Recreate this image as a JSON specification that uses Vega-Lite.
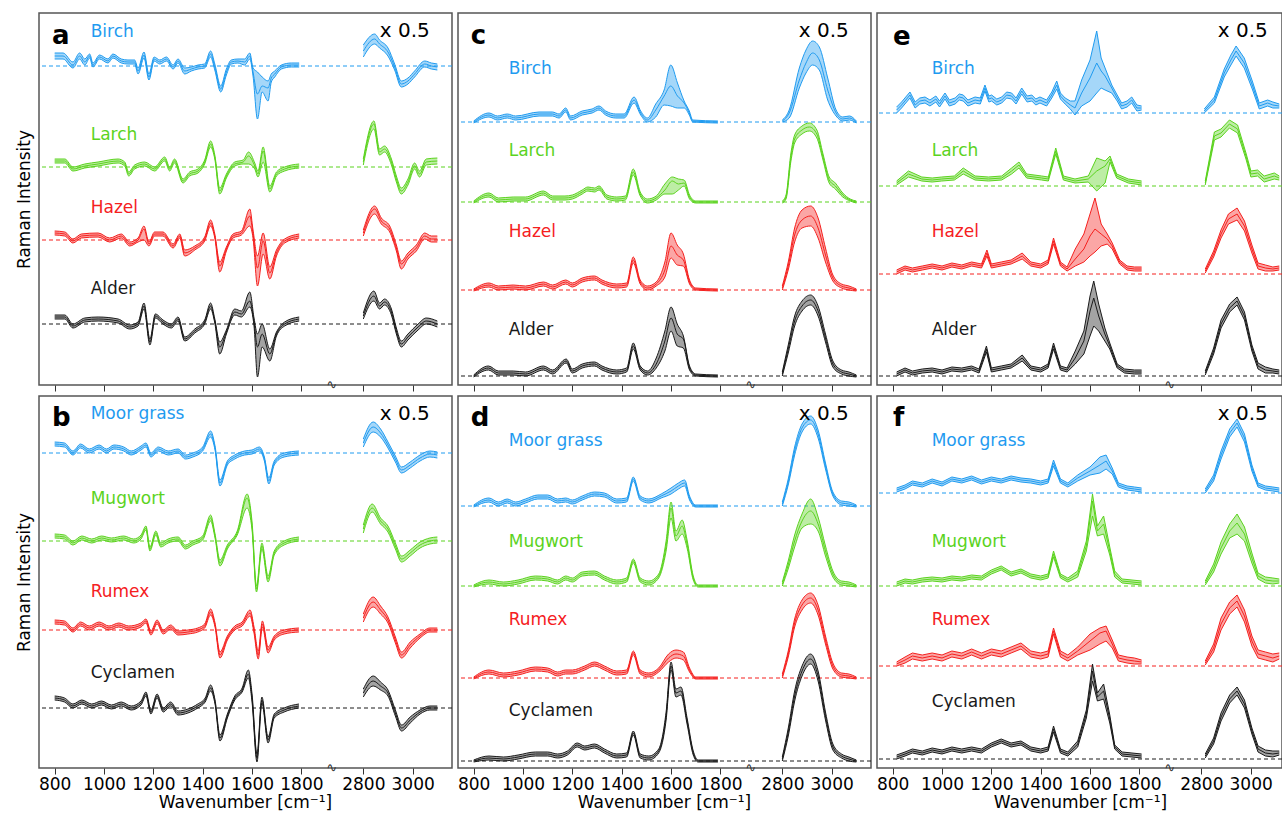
{
"$schema":"https://vega.github.io/schema/vega-lite/v6.json",
"background":"white",
"padding":{"left":14,"top":12,"right":0,"bottom":0},
"config":{"font":"DejaVu Sans","view":{"stroke":"#555","strokeWidth":1.5},
"axis":{"domain":false,"grid":false,"tickColor":"#333","tickSize":6,"tickWidth":1,"labelFontSize":17,"labelColor":"#000","labelPadding":2,"labelFlush":false,"labelOverlap":false,"labelBound":false,"titleFontSize":17,"titleFontWeight":"normal","titleColor":"#000","titlePadding":2},
"axisY":{"labels":false,"ticks":false,"domain":false,"titlePadding":6}},
"datasets":{
"aL":[{"s":"Birch","b":319,"ly":353},{"s":"Larch","b":218,"ly":250},{"s":"Hazel","b":145,"ly":177},{"s":"Alder","b":61,"ly":96}],
"bL":[{"s":"Moor grass","b":315,"ly":354},{"s":"Mugwort","b":227,"ly":269},{"s":"Rumex","b":138,"ly":176},{"s":"Cyclamen","b":60,"ly":95}],
"cL":[{"s":"Birch","b":263,"ly":316},{"s":"Larch","b":183,"ly":234},{"s":"Hazel","b":95,"ly":153},{"s":"Alder","b":9,"ly":55}],
"dL":[{"s":"Moor grass","b":262,"ly":327},{"s":"Mugwort","b":182,"ly":226},{"s":"Rumex","b":90,"ly":148},{"s":"Cyclamen","b":7,"ly":57}],
"eL":[{"s":"Birch","b":272,"ly":316},{"s":"Larch","b":199,"ly":234},{"s":"Hazel","b":111,"ly":153},{"s":"Alder","b":9,"ly":55}],
"fL":[{"s":"Moor grass","b":275,"ly":327},{"s":"Mugwort","b":182,"ly":226},{"s":"Rumex","b":102,"ly":148},{"s":"Cyclamen","b":9,"ly":66}],
"one":[{"k":1}],
"a":[
{"s":"Birch","w":800,"l":326,"m":329,"h":332},{"s":"Birch","w":834,"l":326,"m":329,"h":332},{"s":"Birch","w":874,"l":317,"m":320,"h":323},{"s":"Birch","w":901,"l":326,"m":329,"h":332},{"s":"Birch","w":922,"l":320,"m":323,"h":326},{"s":"Birch","w":942,"l":327,"m":329,"h":331},{"s":"Birch","w":955,"l":318,"m":320,"h":322},{"s":"Birch","w":982,"l":326,"m":328,"h":330},{"s":"Birch","w":1016,"l":322,"m":324,"h":326},{"s":"Birch","w":1036,"l":327,"m":329,"h":331},{"s":"Birch","w":1070,"l":322,"m":324,"h":326},{"s":"Birch","w":1097,"l":321,"m":323,"h":325},{"s":"Birch","w":1124,"l":321,"m":323,"h":325},{"s":"Birch","w":1138,"l":311,"m":314,"h":317},{"s":"Birch","w":1162,"l":327,"m":330,"h":333},{"s":"Birch","w":1182,"l":305,"m":308,"h":311},{"s":"Birch","w":1203,"l":324,"m":326,"h":328},{"s":"Birch","w":1226,"l":321,"m":323,"h":325},{"s":"Birch","w":1253,"l":324,"m":326,"h":328},{"s":"Birch","w":1280,"l":316,"m":318,"h":320},{"s":"Birch","w":1300,"l":322,"m":324,"h":326},{"s":"Birch","w":1327,"l":311,"m":314,"h":317},{"s":"Birch","w":1354,"l":314,"m":316,"h":318},{"s":"Birch","w":1381,"l":316,"m":318,"h":320},{"s":"Birch","w":1408,"l":317,"m":319,"h":321},{"s":"Birch","w":1432,"l":328,"m":331,"h":334},{"s":"Birch","w":1449,"l":315,"m":318,"h":321},{"s":"Birch","w":1473,"l":293,"m":296,"h":299},{"s":"Birch","w":1496,"l":310,"m":313,"h":316},{"s":"Birch","w":1516,"l":321,"m":323,"h":325},{"s":"Birch","w":1543,"l":322,"m":324,"h":326},{"s":"Birch","w":1570,"l":320,"m":323,"h":326},{"s":"Birch","w":1591,"l":326,"m":329,"h":332},{"s":"Birch","w":1604,"l":309,"m":313,"h":317},{"s":"Birch","w":1622,"l":266,"m":291,"h":313},{"s":"Birch","w":1641,"l":293,"m":299,"h":308},{"s":"Birch","w":1665,"l":284,"m":297,"h":304},{"s":"Birch","w":1678,"l":303,"m":307,"h":311},{"s":"Birch","w":1692,"l":308,"m":311,"h":314},{"s":"Birch","w":1719,"l":316,"m":318,"h":320},{"s":"Birch","w":1759,"l":318,"m":320,"h":322},{"s":"Birch","w":1791,"l":318,"m":320,"h":322},
{"s":"Birch","w":2800,"l":328,"m":334,"h":340},{"s":"Birch","w":2846,"l":341,"m":346,"h":351},{"s":"Birch","w":2866,"l":337,"m":341,"h":345},{"s":"Birch","w":2900,"l":329,"m":333,"h":337},{"s":"Birch","w":2927,"l":315,"m":318,"h":321},{"s":"Birch","w":2954,"l":298,"m":301,"h":304},{"s":"Birch","w":2981,"l":301,"m":304,"h":307},{"s":"Birch","w":3008,"l":308,"m":311,"h":314},{"s":"Birch","w":3049,"l":318,"m":321,"h":324},{"s":"Birch","w":3076,"l":316,"m":319,"h":322},{"s":"Birch","w":3100,"l":315,"m":318,"h":321},
{"s":"Larch","w":800,"l":222,"m":224,"h":226},{"s":"Larch","w":841,"l":222,"m":224,"h":226},{"s":"Larch","w":874,"l":214,"m":216,"h":218},{"s":"Larch","w":922,"l":217,"m":219,"h":221},{"s":"Larch","w":976,"l":219,"m":221,"h":223},{"s":"Larch","w":1057,"l":222,"m":224,"h":226},{"s":"Larch","w":1084,"l":219,"m":221,"h":223},{"s":"Larch","w":1100,"l":209,"m":211,"h":213},{"s":"Larch","w":1124,"l":216,"m":218,"h":220},{"s":"Larch","w":1165,"l":219,"m":221,"h":223},{"s":"Larch","w":1205,"l":214,"m":216,"h":218},{"s":"Larch","w":1246,"l":224,"m":226,"h":228},{"s":"Larch","w":1266,"l":214,"m":216,"h":218},{"s":"Larch","w":1286,"l":222,"m":224,"h":226},{"s":"Larch","w":1320,"l":202,"m":204,"h":206},{"s":"Larch","w":1347,"l":209,"m":211,"h":213},{"s":"Larch","w":1381,"l":212,"m":214,"h":216},{"s":"Larch","w":1408,"l":221,"m":223,"h":225},{"s":"Larch","w":1432,"l":238,"m":241,"h":244},{"s":"Larch","w":1449,"l":226,"m":228,"h":230},{"s":"Larch","w":1469,"l":191,"m":194,"h":197},{"s":"Larch","w":1496,"l":207,"m":209,"h":211},{"s":"Larch","w":1530,"l":219,"m":221,"h":223},{"s":"Larch","w":1564,"l":221,"m":223,"h":225},{"s":"Larch","w":1586,"l":221,"m":229,"h":233},{"s":"Larch","w":1611,"l":216,"m":219,"h":222},{"s":"Larch","w":1624,"l":208,"m":211,"h":214},{"s":"Larch","w":1645,"l":223,"m":234,"h":238},{"s":"Larch","w":1672,"l":193,"m":196,"h":199},{"s":"Larch","w":1699,"l":209,"m":211,"h":213},{"s":"Larch","w":1732,"l":214,"m":216,"h":218},{"s":"Larch","w":1791,"l":217,"m":219,"h":221},
{"s":"Larch","w":2800,"l":220,"m":223,"h":226},{"s":"Larch","w":2843,"l":256,"m":261,"h":264},{"s":"Larch","w":2866,"l":230,"m":233,"h":236},{"s":"Larch","w":2886,"l":233,"m":236,"h":239},{"s":"Larch","w":2914,"l":220,"m":223,"h":226},{"s":"Larch","w":2934,"l":203,"m":206,"h":209},{"s":"Larch","w":2954,"l":191,"m":194,"h":197},{"s":"Larch","w":2981,"l":200,"m":203,"h":206},{"s":"Larch","w":3008,"l":216,"m":219,"h":222},{"s":"Larch","w":3028,"l":208,"m":211,"h":214},{"s":"Larch","w":3055,"l":220,"m":223,"h":226},{"s":"Larch","w":3100,"l":221,"m":224,"h":227},
{"s":"Hazel","w":800,"l":150,"m":152,"h":154},{"s":"Hazel","w":841,"l":149,"m":151,"h":153},{"s":"Hazel","w":874,"l":142,"m":144,"h":146},{"s":"Hazel","w":908,"l":147,"m":149,"h":151},{"s":"Hazel","w":976,"l":148,"m":150,"h":152},{"s":"Hazel","w":1023,"l":143,"m":145,"h":147},{"s":"Hazel","w":1070,"l":147,"m":149,"h":151},{"s":"Hazel","w":1104,"l":139,"m":141,"h":143},{"s":"Hazel","w":1138,"l":143,"m":145,"h":147},{"s":"Hazel","w":1162,"l":145,"m":156,"h":159},{"s":"Hazel","w":1182,"l":139,"m":141,"h":143},{"s":"Hazel","w":1205,"l":149,"m":151,"h":153},{"s":"Hazel","w":1239,"l":149,"m":151,"h":153},{"s":"Hazel","w":1280,"l":137,"m":139,"h":141},{"s":"Hazel","w":1307,"l":147,"m":149,"h":151},{"s":"Hazel","w":1327,"l":129,"m":132,"h":135},{"s":"Hazel","w":1368,"l":135,"m":137,"h":139},{"s":"Hazel","w":1408,"l":144,"m":146,"h":148},{"s":"Hazel","w":1432,"l":159,"m":162,"h":165},{"s":"Hazel","w":1449,"l":147,"m":149,"h":151},{"s":"Hazel","w":1469,"l":113,"m":119,"h":123},{"s":"Hazel","w":1496,"l":134,"m":136,"h":138},{"s":"Hazel","w":1523,"l":147,"m":149,"h":151},{"s":"Hazel","w":1557,"l":150,"m":152,"h":154},{"s":"Hazel","w":1591,"l":159,"m":169,"h":176},{"s":"Hazel","w":1604,"l":147,"m":151,"h":155},{"s":"Hazel","w":1622,"l":99,"m":117,"h":129},{"s":"Hazel","w":1645,"l":131,"m":144,"h":152},{"s":"Hazel","w":1672,"l":106,"m":112,"h":118},{"s":"Hazel","w":1699,"l":129,"m":132,"h":135},{"s":"Hazel","w":1732,"l":142,"m":144,"h":146},{"s":"Hazel","w":1791,"l":147,"m":149,"h":151},
{"s":"Hazel","w":2800,"l":149,"m":152,"h":155},{"s":"Hazel","w":2846,"l":171,"m":176,"h":179},{"s":"Hazel","w":2873,"l":161,"m":164,"h":167},{"s":"Hazel","w":2907,"l":153,"m":156,"h":159},{"s":"Hazel","w":2934,"l":134,"m":137,"h":140},{"s":"Hazel","w":2954,"l":116,"m":121,"h":124},{"s":"Hazel","w":2981,"l":126,"m":129,"h":132},{"s":"Hazel","w":3015,"l":134,"m":137,"h":140},{"s":"Hazel","w":3049,"l":146,"m":149,"h":152},{"s":"Hazel","w":3076,"l":143,"m":146,"h":149},{"s":"Hazel","w":3100,"l":143,"m":146,"h":149},
{"s":"Alder","w":800,"l":66,"m":68,"h":70},{"s":"Alder","w":841,"l":66,"m":68,"h":70},{"s":"Alder","w":874,"l":57,"m":59,"h":61},{"s":"Alder","w":922,"l":63,"m":65,"h":67},{"s":"Alder","w":976,"l":64,"m":66,"h":68},{"s":"Alder","w":1057,"l":62,"m":64,"h":66},{"s":"Alder","w":1104,"l":56,"m":58,"h":60},{"s":"Alder","w":1138,"l":59,"m":61,"h":63},{"s":"Alder","w":1162,"l":76,"m":79,"h":82},{"s":"Alder","w":1186,"l":40,"m":43,"h":46},{"s":"Alder","w":1208,"l":67,"m":69,"h":71},{"s":"Alder","w":1239,"l":61,"m":63,"h":65},{"s":"Alder","w":1273,"l":57,"m":59,"h":61},{"s":"Alder","w":1300,"l":64,"m":66,"h":68},{"s":"Alder","w":1327,"l":44,"m":46,"h":48},{"s":"Alder","w":1368,"l":52,"m":54,"h":56},{"s":"Alder","w":1408,"l":61,"m":63,"h":65},{"s":"Alder","w":1432,"l":76,"m":79,"h":82},{"s":"Alder","w":1449,"l":62,"m":64,"h":66},{"s":"Alder","w":1469,"l":31,"m":38,"h":43},{"s":"Alder","w":1496,"l":51,"m":53,"h":55},{"s":"Alder","w":1530,"l":70,"m":73,"h":76},{"s":"Alder","w":1557,"l":68,"m":71,"h":74},{"s":"Alder","w":1591,"l":78,"m":84,"h":93},{"s":"Alder","w":1608,"l":59,"m":63,"h":67},{"s":"Alder","w":1622,"l":8,"m":38,"h":51},{"s":"Alder","w":1641,"l":38,"m":51,"h":61},{"s":"Alder","w":1672,"l":24,"m":31,"h":36},{"s":"Alder","w":1699,"l":49,"m":51,"h":53},{"s":"Alder","w":1732,"l":59,"m":61,"h":63},{"s":"Alder","w":1791,"l":64,"m":66,"h":68},
{"s":"Alder","w":2800,"l":66,"m":69,"h":72},{"s":"Alder","w":2843,"l":84,"m":89,"h":94},{"s":"Alder","w":2866,"l":76,"m":79,"h":82},{"s":"Alder","w":2886,"l":80,"m":83,"h":86},{"s":"Alder","w":2914,"l":70,"m":73,"h":76},{"s":"Alder","w":2934,"l":51,"m":54,"h":57},{"s":"Alder","w":2954,"l":38,"m":41,"h":44},{"s":"Alder","w":2981,"l":45,"m":48,"h":51},{"s":"Alder","w":3022,"l":55,"m":58,"h":61},{"s":"Alder","w":3055,"l":61,"m":64,"h":67},{"s":"Alder","w":3100,"l":58,"m":61,"h":64}
],
"b":[
{"s":"Moor grass","w":800,"l":322,"m":324,"h":326},{"s":"Moor grass","w":840,"l":321,"m":323,"h":325},{"s":"Moor grass","w":874,"l":313,"m":315,"h":317},{"s":"Moor grass","w":905,"l":320,"m":322,"h":324},{"s":"Moor grass","w":940,"l":315,"m":317,"h":319},{"s":"Moor grass","w":980,"l":319,"m":321,"h":323},{"s":"Moor grass","w":1010,"l":315,"m":317,"h":319},{"s":"Moor grass","w":1040,"l":319,"m":321,"h":323},{"s":"Moor grass","w":1080,"l":317,"m":319,"h":321},{"s":"Moor grass","w":1110,"l":313,"m":315,"h":317},{"s":"Moor grass","w":1150,"l":318,"m":320,"h":322},{"s":"Moor grass","w":1170,"l":321,"m":323,"h":325},{"s":"Moor grass","w":1190,"l":311,"m":313,"h":315},{"s":"Moor grass","w":1220,"l":317,"m":319,"h":321},{"s":"Moor grass","w":1260,"l":313,"m":315,"h":317},{"s":"Moor grass","w":1300,"l":315,"m":317,"h":319},{"s":"Moor grass","w":1330,"l":309,"m":311,"h":313},{"s":"Moor grass","w":1360,"l":311,"m":313,"h":315},{"s":"Moor grass","w":1400,"l":317,"m":319,"h":321},{"s":"Moor grass","w":1432,"l":331,"m":334,"h":337},{"s":"Moor grass","w":1450,"l":318,"m":320,"h":322},{"s":"Moor grass","w":1470,"l":282,"m":285,"h":288},{"s":"Moor grass","w":1500,"l":303,"m":305,"h":307},{"s":"Moor grass","w":1530,"l":309,"m":311,"h":313},{"s":"Moor grass","w":1570,"l":313,"m":315,"h":317},{"s":"Moor grass","w":1600,"l":314,"m":316,"h":318},{"s":"Moor grass","w":1630,"l":317,"m":319,"h":321},{"s":"Moor grass","w":1650,"l":307,"m":309,"h":311},{"s":"Moor grass","w":1668,"l":284,"m":287,"h":290},{"s":"Moor grass","w":1690,"l":303,"m":305,"h":307},{"s":"Moor grass","w":1730,"l":311,"m":313,"h":315},{"s":"Moor grass","w":1790,"l":313,"m":315,"h":317},
{"s":"Moor grass","w":2800,"l":321,"m":325,"h":329},{"s":"Moor grass","w":2840,"l":336,"m":341,"h":346},{"s":"Moor grass","w":2870,"l":331,"m":335,"h":339},{"s":"Moor grass","w":2900,"l":320,"m":323,"h":326},{"s":"Moor grass","w":2930,"l":306,"m":309,"h":312},{"s":"Moor grass","w":2955,"l":295,"m":298,"h":301},{"s":"Moor grass","w":2990,"l":300,"m":303,"h":306},{"s":"Moor grass","w":3030,"l":307,"m":310,"h":313},{"s":"Moor grass","w":3070,"l":311,"m":314,"h":317},{"s":"Moor grass","w":3100,"l":310,"m":313,"h":316},
{"s":"Mugwort","w":800,"l":230,"m":232,"h":234},{"s":"Mugwort","w":840,"l":229,"m":231,"h":233},{"s":"Mugwort","w":874,"l":223,"m":225,"h":227},{"s":"Mugwort","w":910,"l":228,"m":230,"h":232},{"s":"Mugwort","w":950,"l":225,"m":227,"h":229},{"s":"Mugwort","w":990,"l":228,"m":230,"h":232},{"s":"Mugwort","w":1030,"l":226,"m":228,"h":230},{"s":"Mugwort","w":1080,"l":228,"m":230,"h":232},{"s":"Mugwort","w":1120,"l":225,"m":227,"h":229},{"s":"Mugwort","w":1150,"l":229,"m":231,"h":233},{"s":"Mugwort","w":1170,"l":238,"m":240,"h":242},{"s":"Mugwort","w":1186,"l":217,"m":219,"h":221},{"s":"Mugwort","w":1210,"l":233,"m":235,"h":237},{"s":"Mugwort","w":1230,"l":221,"m":223,"h":225},{"s":"Mugwort","w":1260,"l":225,"m":227,"h":229},{"s":"Mugwort","w":1300,"l":227,"m":229,"h":231},{"s":"Mugwort","w":1330,"l":219,"m":221,"h":223},{"s":"Mugwort","w":1360,"l":223,"m":225,"h":227},{"s":"Mugwort","w":1400,"l":228,"m":230,"h":232},{"s":"Mugwort","w":1432,"l":247,"m":250,"h":253},{"s":"Mugwort","w":1450,"l":230,"m":232,"h":234},{"s":"Mugwort","w":1470,"l":202,"m":205,"h":208},{"s":"Mugwort","w":1500,"l":219,"m":221,"h":223},{"s":"Mugwort","w":1540,"l":233,"m":235,"h":237},{"s":"Mugwort","w":1580,"l":260,"m":270,"h":274},{"s":"Mugwort","w":1600,"l":238,"m":242,"h":246},{"s":"Mugwort","w":1618,"l":176,"m":179,"h":182},{"s":"Mugwort","w":1640,"l":219,"m":222,"h":225},{"s":"Mugwort","w":1665,"l":186,"m":189,"h":192},{"s":"Mugwort","w":1690,"l":213,"m":215,"h":217},{"s":"Mugwort","w":1730,"l":223,"m":225,"h":227},{"s":"Mugwort","w":1790,"l":227,"m":229,"h":231},
{"s":"Mugwort","w":2800,"l":235,"m":239,"h":243},{"s":"Mugwort","w":2836,"l":256,"m":260,"h":264},{"s":"Mugwort","w":2870,"l":244,"m":247,"h":250},{"s":"Mugwort","w":2900,"l":236,"m":239,"h":242},{"s":"Mugwort","w":2930,"l":219,"m":222,"h":225},{"s":"Mugwort","w":2955,"l":206,"m":209,"h":212},{"s":"Mugwort","w":2990,"l":212,"m":215,"h":218},{"s":"Mugwort","w":3030,"l":220,"m":223,"h":226},{"s":"Mugwort","w":3070,"l":224,"m":227,"h":230},{"s":"Mugwort","w":3100,"l":225,"m":228,"h":231},
{"s":"Rumex","w":800,"l":144,"m":146,"h":148},{"s":"Rumex","w":840,"l":143,"m":145,"h":147},{"s":"Rumex","w":874,"l":136,"m":138,"h":140},{"s":"Rumex","w":905,"l":142,"m":144,"h":146},{"s":"Rumex","w":940,"l":138,"m":140,"h":142},{"s":"Rumex","w":980,"l":142,"m":144,"h":146},{"s":"Rumex","w":1020,"l":138,"m":140,"h":142},{"s":"Rumex","w":1060,"l":141,"m":143,"h":145},{"s":"Rumex","w":1100,"l":138,"m":140,"h":142},{"s":"Rumex","w":1150,"l":141,"m":143,"h":145},{"s":"Rumex","w":1170,"l":145,"m":147,"h":149},{"s":"Rumex","w":1190,"l":133,"m":135,"h":137},{"s":"Rumex","w":1215,"l":144,"m":146,"h":148},{"s":"Rumex","w":1240,"l":134,"m":136,"h":138},{"s":"Rumex","w":1270,"l":139,"m":141,"h":143},{"s":"Rumex","w":1300,"l":133,"m":135,"h":137},{"s":"Rumex","w":1340,"l":134,"m":136,"h":138},{"s":"Rumex","w":1380,"l":136,"m":138,"h":140},{"s":"Rumex","w":1408,"l":140,"m":142,"h":144},{"s":"Rumex","w":1432,"l":153,"m":156,"h":159},{"s":"Rumex","w":1450,"l":141,"m":143,"h":145},{"s":"Rumex","w":1470,"l":110,"m":113,"h":116},{"s":"Rumex","w":1500,"l":128,"m":130,"h":132},{"s":"Rumex","w":1530,"l":138,"m":140,"h":142},{"s":"Rumex","w":1560,"l":142,"m":144,"h":146},{"s":"Rumex","w":1592,"l":152,"m":155,"h":158},{"s":"Rumex","w":1608,"l":135,"m":138,"h":141},{"s":"Rumex","w":1625,"l":109,"m":113,"h":117},{"s":"Rumex","w":1642,"l":141,"m":144,"h":147},{"s":"Rumex","w":1665,"l":115,"m":118,"h":121},{"s":"Rumex","w":1690,"l":128,"m":130,"h":132},{"s":"Rumex","w":1730,"l":134,"m":136,"h":138},{"s":"Rumex","w":1790,"l":136,"m":138,"h":140},
{"s":"Rumex","w":2800,"l":146,"m":150,"h":154},{"s":"Rumex","w":2840,"l":161,"m":166,"h":171},{"s":"Rumex","w":2870,"l":154,"m":158,"h":162},{"s":"Rumex","w":2900,"l":145,"m":148,"h":151},{"s":"Rumex","w":2930,"l":125,"m":128,"h":131},{"s":"Rumex","w":2955,"l":110,"m":113,"h":116},{"s":"Rumex","w":2990,"l":120,"m":123,"h":126},{"s":"Rumex","w":3030,"l":130,"m":132,"h":134},{"s":"Rumex","w":3070,"l":136,"m":138,"h":140},{"s":"Rumex","w":3100,"l":136,"m":138,"h":140},
{"s":"Cyclamen","w":800,"l":68,"m":70,"h":72},{"s":"Cyclamen","w":840,"l":66,"m":68,"h":70},{"s":"Cyclamen","w":874,"l":60,"m":62,"h":64},{"s":"Cyclamen","w":910,"l":64,"m":66,"h":68},{"s":"Cyclamen","w":950,"l":60,"m":62,"h":64},{"s":"Cyclamen","w":990,"l":63,"m":65,"h":67},{"s":"Cyclamen","w":1030,"l":59,"m":61,"h":63},{"s":"Cyclamen","w":1070,"l":62,"m":64,"h":66},{"s":"Cyclamen","w":1110,"l":58,"m":60,"h":62},{"s":"Cyclamen","w":1150,"l":63,"m":65,"h":67},{"s":"Cyclamen","w":1170,"l":72,"m":74,"h":76},{"s":"Cyclamen","w":1190,"l":54,"m":56,"h":58},{"s":"Cyclamen","w":1215,"l":70,"m":72,"h":74},{"s":"Cyclamen","w":1240,"l":56,"m":58,"h":60},{"s":"Cyclamen","w":1270,"l":62,"m":64,"h":66},{"s":"Cyclamen","w":1300,"l":53,"m":55,"h":57},{"s":"Cyclamen","w":1340,"l":55,"m":57,"h":59},{"s":"Cyclamen","w":1380,"l":60,"m":62,"h":64},{"s":"Cyclamen","w":1410,"l":66,"m":68,"h":70},{"s":"Cyclamen","w":1432,"l":77,"m":80,"h":83},{"s":"Cyclamen","w":1450,"l":64,"m":66,"h":68},{"s":"Cyclamen","w":1470,"l":27,"m":30,"h":33},{"s":"Cyclamen","w":1500,"l":50,"m":52,"h":54},{"s":"Cyclamen","w":1530,"l":68,"m":70,"h":72},{"s":"Cyclamen","w":1560,"l":76,"m":78,"h":80},{"s":"Cyclamen","w":1585,"l":90,"m":94,"h":98},{"s":"Cyclamen","w":1600,"l":66,"m":70,"h":74},{"s":"Cyclamen","w":1620,"l":6,"m":10,"h":14},{"s":"Cyclamen","w":1640,"l":65,"m":68,"h":71},{"s":"Cyclamen","w":1665,"l":25,"m":28,"h":31},{"s":"Cyclamen","w":1690,"l":50,"m":52,"h":54},{"s":"Cyclamen","w":1730,"l":56,"m":58,"h":60},{"s":"Cyclamen","w":1790,"l":60,"m":62,"h":64},
{"s":"Cyclamen","w":2800,"l":71,"m":75,"h":79},{"s":"Cyclamen","w":2840,"l":82,"m":87,"h":92},{"s":"Cyclamen","w":2870,"l":78,"m":82,"h":86},{"s":"Cyclamen","w":2900,"l":72,"m":75,"h":78},{"s":"Cyclamen","w":2930,"l":52,"m":55,"h":58},{"s":"Cyclamen","w":2955,"l":37,"m":40,"h":43},{"s":"Cyclamen","w":2990,"l":45,"m":48,"h":51},{"s":"Cyclamen","w":3030,"l":54,"m":56,"h":58},{"s":"Cyclamen","w":3070,"l":58,"m":60,"h":62},{"s":"Cyclamen","w":3100,"l":58,"m":60,"h":62}
],
"c":[
{"s":"Birch","w":800,"l":262,"m":263,"h":264},{"s":"Birch","w":862,"l":268,"m":270,"h":272},{"s":"Birch","w":896,"l":265,"m":267,"h":269},{"s":"Birch","w":936,"l":267,"m":269,"h":271},{"s":"Birch","w":970,"l":265,"m":267,"h":269},{"s":"Birch","w":1065,"l":269,"m":271,"h":273},{"s":"Birch","w":1119,"l":269,"m":271,"h":273},{"s":"Birch","w":1146,"l":267,"m":269,"h":271},{"s":"Birch","w":1173,"l":273,"m":275,"h":277},{"s":"Birch","w":1193,"l":265,"m":267,"h":269},{"s":"Birch","w":1240,"l":270,"m":272,"h":274},{"s":"Birch","w":1280,"l":272,"m":274,"h":276},{"s":"Birch","w":1308,"l":275,"m":277,"h":279},{"s":"Birch","w":1335,"l":270,"m":272,"h":274},{"s":"Birch","w":1376,"l":267,"m":269,"h":271},{"s":"Birch","w":1410,"l":267,"m":269,"h":271},{"s":"Birch","w":1450,"l":282,"m":285,"h":288},{"s":"Birch","w":1477,"l":270,"m":272,"h":274},{"s":"Birch","w":1504,"l":263,"m":265,"h":267},{"s":"Birch","w":1538,"l":268,"m":275,"h":281},{"s":"Birch","w":1572,"l":280,"m":289,"h":295},{"s":"Birch","w":1599,"l":279,"m":299,"h":320},{"s":"Birch","w":1626,"l":277,"m":289,"h":302},{"s":"Birch","w":1653,"l":277,"m":282,"h":284},{"s":"Birch","w":1674,"l":270,"m":272,"h":274},{"s":"Birch","w":1688,"l":263,"m":264,"h":265},{"s":"Birch","w":1790,"l":262,"m":263,"h":264},
{"s":"Birch","w":2800,"l":263,"m":264,"h":265},{"s":"Birch","w":2828,"l":267,"m":272,"h":275},{"s":"Birch","w":2869,"l":297,"m":305,"h":317},{"s":"Birch","w":2896,"l":312,"m":322,"h":335},{"s":"Birch","w":2923,"l":320,"m":332,"h":344},{"s":"Birch","w":2950,"l":315,"m":325,"h":338},{"s":"Birch","w":2984,"l":285,"m":295,"h":307},{"s":"Birch","w":3018,"l":269,"m":272,"h":275},{"s":"Birch","w":3045,"l":264,"m":266,"h":268},{"s":"Birch","w":3072,"l":265,"m":267,"h":269},{"s":"Birch","w":3100,"l":262,"m":263,"h":264},
{"s":"Larch","w":800,"l":182,"m":183,"h":184},{"s":"Larch","w":862,"l":188,"m":190,"h":192},{"s":"Larch","w":900,"l":183,"m":185,"h":187},{"s":"Larch","w":960,"l":184,"m":186,"h":188},{"s":"Larch","w":1010,"l":184,"m":186,"h":188},{"s":"Larch","w":1083,"l":190,"m":192,"h":194},{"s":"Larch","w":1120,"l":185,"m":187,"h":189},{"s":"Larch","w":1170,"l":185,"m":187,"h":189},{"s":"Larch","w":1200,"l":186,"m":188,"h":190},{"s":"Larch","w":1240,"l":191,"m":193,"h":195},{"s":"Larch","w":1263,"l":194,"m":196,"h":198},{"s":"Larch","w":1290,"l":193,"m":195,"h":197},{"s":"Larch","w":1308,"l":195,"m":197,"h":199},{"s":"Larch","w":1340,"l":186,"m":188,"h":190},{"s":"Larch","w":1380,"l":184,"m":186,"h":188},{"s":"Larch","w":1415,"l":185,"m":187,"h":189},{"s":"Larch","w":1447,"l":210,"m":213,"h":216},{"s":"Larch","w":1475,"l":189,"m":191,"h":193},{"s":"Larch","w":1505,"l":182,"m":184,"h":186},{"s":"Larch","w":1540,"l":185,"m":187,"h":189},{"s":"Larch","w":1575,"l":191,"m":195,"h":201},{"s":"Larch","w":1605,"l":191,"m":204,"h":208},{"s":"Larch","w":1630,"l":195,"m":201,"h":206},{"s":"Larch","w":1653,"l":199,"m":202,"h":205},{"s":"Larch","w":1675,"l":186,"m":188,"h":190},{"s":"Larch","w":1700,"l":182,"m":183,"h":184},{"s":"Larch","w":1790,"l":182,"m":183,"h":184},
{"s":"Larch","w":2800,"l":182,"m":183,"h":184},{"s":"Larch","w":2815,"l":186,"m":188,"h":190},{"s":"Larch","w":2835,"l":224,"m":228,"h":232},{"s":"Larch","w":2850,"l":242,"m":246,"h":250},{"s":"Larch","w":2880,"l":251,"m":255,"h":259},{"s":"Larch","w":2910,"l":254,"m":258,"h":262},{"s":"Larch","w":2940,"l":247,"m":251,"h":255},{"s":"Larch","w":2965,"l":225,"m":228,"h":231},{"s":"Larch","w":2990,"l":202,"m":205,"h":208},{"s":"Larch","w":3015,"l":196,"m":199,"h":202},{"s":"Larch","w":3045,"l":188,"m":190,"h":192},{"s":"Larch","w":3075,"l":184,"m":185,"h":186},{"s":"Larch","w":3100,"l":182,"m":183,"h":184},
{"s":"Hazel","w":800,"l":94,"m":95,"h":96},{"s":"Hazel","w":862,"l":98,"m":100,"h":102},{"s":"Hazel","w":900,"l":95,"m":97,"h":99},{"s":"Hazel","w":960,"l":96,"m":98,"h":100},{"s":"Hazel","w":1010,"l":95,"m":97,"h":99},{"s":"Hazel","w":1083,"l":99,"m":101,"h":103},{"s":"Hazel","w":1120,"l":96,"m":98,"h":100},{"s":"Hazel","w":1173,"l":101,"m":103,"h":105},{"s":"Hazel","w":1200,"l":98,"m":100,"h":102},{"s":"Hazel","w":1240,"l":103,"m":105,"h":107},{"s":"Hazel","w":1290,"l":105,"m":107,"h":109},{"s":"Hazel","w":1320,"l":101,"m":103,"h":105},{"s":"Hazel","w":1380,"l":97,"m":99,"h":101},{"s":"Hazel","w":1420,"l":98,"m":100,"h":102},{"s":"Hazel","w":1447,"l":122,"m":125,"h":128},{"s":"Hazel","w":1475,"l":101,"m":103,"h":105},{"s":"Hazel","w":1505,"l":95,"m":97,"h":99},{"s":"Hazel","w":1540,"l":99,"m":101,"h":103},{"s":"Hazel","w":1575,"l":108,"m":115,"h":123},{"s":"Hazel","w":1600,"l":127,"m":139,"h":152},{"s":"Hazel","w":1625,"l":120,"m":130,"h":140},{"s":"Hazel","w":1650,"l":119,"m":125,"h":131},{"s":"Hazel","w":1675,"l":101,"m":103,"h":105},{"s":"Hazel","w":1700,"l":95,"m":96,"h":97},{"s":"Hazel","w":1790,"l":94,"m":95,"h":96},
{"s":"Hazel","w":2800,"l":95,"m":97,"h":99},{"s":"Hazel","w":2825,"l":116,"m":120,"h":124},{"s":"Hazel","w":2850,"l":143,"m":150,"h":157},{"s":"Hazel","w":2880,"l":157,"m":165,"h":175},{"s":"Hazel","w":2915,"l":159,"m":169,"h":179},{"s":"Hazel","w":2945,"l":147,"m":157,"h":167},{"s":"Hazel","w":2975,"l":123,"m":130,"h":137},{"s":"Hazel","w":3005,"l":104,"m":107,"h":110},{"s":"Hazel","w":3040,"l":97,"m":99,"h":101},{"s":"Hazel","w":3070,"l":95,"m":97,"h":99},{"s":"Hazel","w":3100,"l":94,"m":95,"h":96},
{"s":"Alder","w":800,"l":8,"m":9,"h":10},{"s":"Alder","w":860,"l":15,"m":17,"h":19},{"s":"Alder","w":900,"l":10,"m":12,"h":14},{"s":"Alder","w":960,"l":10,"m":12,"h":14},{"s":"Alder","w":1010,"l":9,"m":11,"h":13},{"s":"Alder","w":1083,"l":15,"m":17,"h":19},{"s":"Alder","w":1120,"l":11,"m":13,"h":15},{"s":"Alder","w":1175,"l":22,"m":24,"h":26},{"s":"Alder","w":1200,"l":12,"m":14,"h":16},{"s":"Alder","w":1240,"l":17,"m":19,"h":21},{"s":"Alder","w":1290,"l":19,"m":21,"h":23},{"s":"Alder","w":1320,"l":15,"m":17,"h":19},{"s":"Alder","w":1380,"l":11,"m":13,"h":15},{"s":"Alder","w":1420,"l":13,"m":15,"h":17},{"s":"Alder","w":1447,"l":36,"m":39,"h":42},{"s":"Alder","w":1475,"l":15,"m":17,"h":19},{"s":"Alder","w":1505,"l":10,"m":12,"h":14},{"s":"Alder","w":1540,"l":17,"m":21,"h":27},{"s":"Alder","w":1575,"l":34,"m":44,"h":54},{"s":"Alder","w":1600,"l":54,"m":67,"h":78},{"s":"Alder","w":1625,"l":39,"m":51,"h":61},{"s":"Alder","w":1650,"l":37,"m":46,"h":49},{"s":"Alder","w":1675,"l":15,"m":17,"h":19},{"s":"Alder","w":1700,"l":9,"m":10,"h":11},{"s":"Alder","w":1790,"l":8,"m":9,"h":10},
{"s":"Alder","w":2800,"l":9,"m":11,"h":13},{"s":"Alder","w":2825,"l":33,"m":37,"h":41},{"s":"Alder","w":2850,"l":59,"m":64,"h":69},{"s":"Alder","w":2880,"l":74,"m":79,"h":84},{"s":"Alder","w":2915,"l":80,"m":85,"h":90},{"s":"Alder","w":2945,"l":69,"m":74,"h":79},{"s":"Alder","w":2975,"l":43,"m":47,"h":51},{"s":"Alder","w":3005,"l":18,"m":21,"h":24},{"s":"Alder","w":3040,"l":11,"m":13,"h":15},{"s":"Alder","w":3070,"l":9,"m":11,"h":13},{"s":"Alder","w":3100,"l":8,"m":9,"h":10}
],
"d":[
{"s":"Moor grass","w":800,"l":261,"m":262,"h":263},{"s":"Moor grass","w":862,"l":266,"m":268,"h":270},{"s":"Moor grass","w":900,"l":262,"m":264,"h":266},{"s":"Moor grass","w":936,"l":265,"m":267,"h":269},{"s":"Moor grass","w":970,"l":262,"m":264,"h":266},{"s":"Moor grass","w":1010,"l":265,"m":267,"h":269},{"s":"Moor grass","w":1060,"l":269,"m":271,"h":273},{"s":"Moor grass","w":1100,"l":269,"m":271,"h":273},{"s":"Moor grass","w":1140,"l":265,"m":267,"h":269},{"s":"Moor grass","w":1173,"l":266,"m":268,"h":270},{"s":"Moor grass","w":1200,"l":264,"m":266,"h":268},{"s":"Moor grass","w":1240,"l":268,"m":270,"h":272},{"s":"Moor grass","w":1290,"l":272,"m":274,"h":276},{"s":"Moor grass","w":1330,"l":271,"m":273,"h":275},{"s":"Moor grass","w":1380,"l":265,"m":267,"h":269},{"s":"Moor grass","w":1420,"l":266,"m":268,"h":270},{"s":"Moor grass","w":1447,"l":287,"m":289,"h":291},{"s":"Moor grass","w":1475,"l":268,"m":270,"h":272},{"s":"Moor grass","w":1510,"l":265,"m":267,"h":269},{"s":"Moor grass","w":1560,"l":270,"m":272,"h":274},{"s":"Moor grass","w":1600,"l":274,"m":277,"h":280},{"s":"Moor grass","w":1630,"l":279,"m":282,"h":285},{"s":"Moor grass","w":1655,"l":282,"m":285,"h":288},{"s":"Moor grass","w":1675,"l":268,"m":270,"h":272},{"s":"Moor grass","w":1700,"l":261,"m":262,"h":263},{"s":"Moor grass","w":1790,"l":261,"m":262,"h":263},
{"s":"Moor grass","w":2800,"l":262,"m":264,"h":266},{"s":"Moor grass","w":2825,"l":284,"m":287,"h":290},{"s":"Moor grass","w":2850,"l":313,"m":317,"h":321},{"s":"Moor grass","w":2880,"l":336,"m":340,"h":344},{"s":"Moor grass","w":2915,"l":344,"m":348,"h":352},{"s":"Moor grass","w":2945,"l":330,"m":334,"h":338},{"s":"Moor grass","w":2975,"l":299,"m":302,"h":305},{"s":"Moor grass","w":3005,"l":272,"m":274,"h":276},{"s":"Moor grass","w":3040,"l":263,"m":265,"h":267},{"s":"Moor grass","w":3070,"l":262,"m":264,"h":266},{"s":"Moor grass","w":3100,"l":261,"m":262,"h":263},
{"s":"Mugwort","w":800,"l":181,"m":182,"h":183},{"s":"Mugwort","w":862,"l":184,"m":186,"h":188},{"s":"Mugwort","w":920,"l":182,"m":184,"h":186},{"s":"Mugwort","w":980,"l":184,"m":186,"h":188},{"s":"Mugwort","w":1050,"l":188,"m":190,"h":192},{"s":"Mugwort","w":1100,"l":187,"m":189,"h":191},{"s":"Mugwort","w":1140,"l":184,"m":186,"h":188},{"s":"Mugwort","w":1173,"l":188,"m":190,"h":192},{"s":"Mugwort","w":1200,"l":186,"m":188,"h":190},{"s":"Mugwort","w":1240,"l":192,"m":194,"h":196},{"s":"Mugwort","w":1290,"l":193,"m":195,"h":197},{"s":"Mugwort","w":1330,"l":188,"m":190,"h":192},{"s":"Mugwort","w":1380,"l":184,"m":186,"h":188},{"s":"Mugwort","w":1420,"l":186,"m":188,"h":190},{"s":"Mugwort","w":1447,"l":205,"m":207,"h":209},{"s":"Mugwort","w":1475,"l":186,"m":188,"h":190},{"s":"Mugwort","w":1510,"l":183,"m":185,"h":187},{"s":"Mugwort","w":1550,"l":190,"m":192,"h":194},{"s":"Mugwort","w":1580,"l":217,"m":222,"h":227},{"s":"Mugwort","w":1600,"l":250,"m":260,"h":266},{"s":"Mugwort","w":1620,"l":227,"m":232,"h":237},{"s":"Mugwort","w":1645,"l":234,"m":242,"h":248},{"s":"Mugwort","w":1665,"l":220,"m":224,"h":228},{"s":"Mugwort","w":1690,"l":188,"m":190,"h":192},{"s":"Mugwort","w":1710,"l":181,"m":182,"h":183},{"s":"Mugwort","w":1790,"l":181,"m":182,"h":183},
{"s":"Mugwort","w":2800,"l":182,"m":184,"h":186},{"s":"Mugwort","w":2825,"l":200,"m":204,"h":208},{"s":"Mugwort","w":2850,"l":221,"m":227,"h":233},{"s":"Mugwort","w":2880,"l":240,"m":247,"h":254},{"s":"Mugwort","w":2915,"l":244,"m":257,"h":269},{"s":"Mugwort","w":2945,"l":237,"m":244,"h":251},{"s":"Mugwort","w":2975,"l":212,"m":217,"h":222},{"s":"Mugwort","w":3005,"l":191,"m":194,"h":197},{"s":"Mugwort","w":3040,"l":183,"m":185,"h":187},{"s":"Mugwort","w":3070,"l":182,"m":184,"h":186},{"s":"Mugwort","w":3100,"l":181,"m":182,"h":183},
{"s":"Rumex","w":800,"l":89,"m":90,"h":91},{"s":"Rumex","w":862,"l":94,"m":96,"h":98},{"s":"Rumex","w":920,"l":91,"m":93,"h":95},{"s":"Rumex","w":980,"l":93,"m":95,"h":97},{"s":"Rumex","w":1050,"l":97,"m":99,"h":101},{"s":"Rumex","w":1100,"l":96,"m":98,"h":100},{"s":"Rumex","w":1140,"l":92,"m":94,"h":96},{"s":"Rumex","w":1173,"l":94,"m":96,"h":98},{"s":"Rumex","w":1200,"l":94,"m":96,"h":98},{"s":"Rumex","w":1250,"l":98,"m":100,"h":102},{"s":"Rumex","w":1290,"l":102,"m":104,"h":106},{"s":"Rumex","w":1330,"l":98,"m":100,"h":102},{"s":"Rumex","w":1380,"l":93,"m":95,"h":97},{"s":"Rumex","w":1420,"l":94,"m":96,"h":98},{"s":"Rumex","w":1447,"l":113,"m":115,"h":117},{"s":"Rumex","w":1475,"l":94,"m":96,"h":98},{"s":"Rumex","w":1510,"l":91,"m":93,"h":95},{"s":"Rumex","w":1550,"l":96,"m":98,"h":100},{"s":"Rumex","w":1590,"l":106,"m":110,"h":114},{"s":"Rumex","w":1620,"l":110,"m":114,"h":118},{"s":"Rumex","w":1650,"l":108,"m":112,"h":116},{"s":"Rumex","w":1675,"l":96,"m":98,"h":100},{"s":"Rumex","w":1700,"l":89,"m":90,"h":91},{"s":"Rumex","w":1790,"l":89,"m":90,"h":91},
{"s":"Rumex","w":2800,"l":90,"m":92,"h":94},{"s":"Rumex","w":2825,"l":112,"m":115,"h":118},{"s":"Rumex","w":2850,"l":141,"m":145,"h":149},{"s":"Rumex","w":2880,"l":158,"m":163,"h":168},{"s":"Rumex","w":2915,"l":165,"m":170,"h":175},{"s":"Rumex","w":2945,"l":153,"m":158,"h":163},{"s":"Rumex","w":2975,"l":124,"m":128,"h":132},{"s":"Rumex","w":3005,"l":99,"m":102,"h":105},{"s":"Rumex","w":3040,"l":91,"m":93,"h":95},{"s":"Rumex","w":3070,"l":90,"m":92,"h":94},{"s":"Rumex","w":3100,"l":89,"m":90,"h":91},
{"s":"Cyclamen","w":800,"l":6,"m":7,"h":8},{"s":"Cyclamen","w":862,"l":8,"m":10,"h":12},{"s":"Cyclamen","w":920,"l":7,"m":9,"h":11},{"s":"Cyclamen","w":980,"l":9,"m":11,"h":13},{"s":"Cyclamen","w":1050,"l":12,"m":14,"h":16},{"s":"Cyclamen","w":1100,"l":12,"m":14,"h":16},{"s":"Cyclamen","w":1140,"l":10,"m":12,"h":14},{"s":"Cyclamen","w":1180,"l":13,"m":15,"h":17},{"s":"Cyclamen","w":1220,"l":21,"m":23,"h":25},{"s":"Cyclamen","w":1250,"l":18,"m":20,"h":22},{"s":"Cyclamen","w":1290,"l":20,"m":22,"h":24},{"s":"Cyclamen","w":1330,"l":15,"m":17,"h":19},{"s":"Cyclamen","w":1380,"l":10,"m":12,"h":14},{"s":"Cyclamen","w":1420,"l":11,"m":13,"h":15},{"s":"Cyclamen","w":1447,"l":33,"m":35,"h":37},{"s":"Cyclamen","w":1475,"l":10,"m":12,"h":14},{"s":"Cyclamen","w":1510,"l":8,"m":10,"h":12},{"s":"Cyclamen","w":1550,"l":15,"m":17,"h":19},{"s":"Cyclamen","w":1580,"l":48,"m":52,"h":56},{"s":"Cyclamen","w":1600,"l":98,"m":102,"h":106},{"s":"Cyclamen","w":1620,"l":71,"m":75,"h":79},{"s":"Cyclamen","w":1640,"l":73,"m":77,"h":81},{"s":"Cyclamen","w":1665,"l":44,"m":47,"h":50},{"s":"Cyclamen","w":1690,"l":13,"m":15,"h":17},{"s":"Cyclamen","w":1710,"l":6,"m":7,"h":8},{"s":"Cyclamen","w":1790,"l":6,"m":7,"h":8},
{"s":"Cyclamen","w":2800,"l":7,"m":9,"h":11},{"s":"Cyclamen","w":2825,"l":33,"m":37,"h":41},{"s":"Cyclamen","w":2850,"l":67,"m":72,"h":77},{"s":"Cyclamen","w":2880,"l":92,"m":97,"h":102},{"s":"Cyclamen","w":2915,"l":104,"m":109,"h":114},{"s":"Cyclamen","w":2945,"l":87,"m":92,"h":97},{"s":"Cyclamen","w":2975,"l":48,"m":52,"h":56},{"s":"Cyclamen","w":3005,"l":18,"m":21,"h":24},{"s":"Cyclamen","w":3040,"l":10,"m":12,"h":14},{"s":"Cyclamen","w":3070,"l":7,"m":9,"h":11},{"s":"Cyclamen","w":3100,"l":6,"m":7,"h":8}
],
"e":[
{"s":"Birch","w":816,"l":272,"m":275,"h":278},{"s":"Birch","w":836,"l":277,"m":280,"h":283},{"s":"Birch","w":870,"l":287,"m":290,"h":293},{"s":"Birch","w":891,"l":277,"m":280,"h":283},{"s":"Birch","w":910,"l":281,"m":284,"h":287},{"s":"Birch","w":931,"l":282,"m":285,"h":288},{"s":"Birch","w":951,"l":279,"m":282,"h":285},{"s":"Birch","w":975,"l":283,"m":286,"h":289},{"s":"Birch","w":990,"l":278,"m":281,"h":284},{"s":"Birch","w":1012,"l":286,"m":289,"h":292},{"s":"Birch","w":1030,"l":279,"m":282,"h":285},{"s":"Birch","w":1053,"l":281,"m":284,"h":287},{"s":"Birch","w":1070,"l":285,"m":288,"h":291},{"s":"Birch","w":1086,"l":284,"m":287,"h":290},{"s":"Birch","w":1105,"l":279,"m":282,"h":285},{"s":"Birch","w":1134,"l":282,"m":285,"h":288},{"s":"Birch","w":1155,"l":281,"m":284,"h":287},{"s":"Birch","w":1174,"l":294,"m":297,"h":300},{"s":"Birch","w":1190,"l":283,"m":286,"h":289},{"s":"Birch","w":1201,"l":284,"m":287,"h":290},{"s":"Birch","w":1222,"l":280,"m":283,"h":286},{"s":"Birch","w":1242,"l":282,"m":285,"h":288},{"s":"Birch","w":1262,"l":287,"m":290,"h":293},{"s":"Birch","w":1282,"l":286,"m":289,"h":292},{"s":"Birch","w":1300,"l":281,"m":284,"h":287},{"s":"Birch","w":1323,"l":291,"m":294,"h":297},{"s":"Birch","w":1345,"l":283,"m":286,"h":289},{"s":"Birch","w":1364,"l":284,"m":287,"h":290},{"s":"Birch","w":1380,"l":280,"m":283,"h":286},{"s":"Birch","w":1397,"l":282,"m":285,"h":288},{"s":"Birch","w":1424,"l":279,"m":282,"h":285},{"s":"Birch","w":1445,"l":287,"m":290,"h":293},{"s":"Birch","w":1465,"l":296,"m":300,"h":304},{"s":"Birch","w":1480,"l":286,"m":289,"h":292},{"s":"Birch","w":1499,"l":281,"m":284,"h":287},{"s":"Birch","w":1520,"l":276,"m":280,"h":284},{"s":"Birch","w":1539,"l":270,"m":277,"h":284},{"s":"Birch","w":1566,"l":279,"m":292,"h":305},{"s":"Birch","w":1600,"l":284,"m":307,"h":325},{"s":"Birch","w":1627,"l":292,"m":322,"h":354},{"s":"Birch","w":1645,"l":297,"m":314,"h":327},{"s":"Birch","w":1661,"l":295,"m":309,"h":317},{"s":"Birch","w":1688,"l":292,"m":297,"h":300},{"s":"Birch","w":1710,"l":284,"m":287,"h":290},{"s":"Birch","w":1728,"l":276,"m":279,"h":282},{"s":"Birch","w":1750,"l":278,"m":281,"h":284},{"s":"Birch","w":1769,"l":282,"m":285,"h":288},{"s":"Birch","w":1790,"l":274,"m":277,"h":280},{"s":"Birch","w":1809,"l":275,"m":277,"h":279},
{"s":"Birch","w":2812,"l":272,"m":274,"h":276},{"s":"Birch","w":2853,"l":282,"m":285,"h":288},{"s":"Birch","w":2893,"l":308,"m":312,"h":316},{"s":"Birch","w":2920,"l":320,"m":325,"h":330},{"s":"Birch","w":2941,"l":329,"m":334,"h":339},{"s":"Birch","w":2974,"l":317,"m":322,"h":327},{"s":"Birch","w":3008,"l":295,"m":299,"h":303},{"s":"Birch","w":3035,"l":276,"m":279,"h":282},{"s":"Birch","w":3069,"l":279,"m":282,"h":285},{"s":"Birch","w":3090,"l":277,"m":280,"h":283},{"s":"Birch","w":3116,"l":277,"m":279,"h":281},
{"s":"Larch","w":816,"l":200,"m":202,"h":204},{"s":"Larch","w":864,"l":208,"m":211,"h":214},{"s":"Larch","w":918,"l":204,"m":206,"h":208},{"s":"Larch","w":960,"l":203,"m":205,"h":207},{"s":"Larch","w":999,"l":204,"m":206,"h":208},{"s":"Larch","w":1050,"l":205,"m":207,"h":209},{"s":"Larch","w":1086,"l":211,"m":214,"h":217},{"s":"Larch","w":1134,"l":205,"m":207,"h":209},{"s":"Larch","w":1188,"l":204,"m":206,"h":208},{"s":"Larch","w":1242,"l":205,"m":207,"h":209},{"s":"Larch","w":1282,"l":211,"m":214,"h":217},{"s":"Larch","w":1312,"l":217,"m":220,"h":223},{"s":"Larch","w":1343,"l":207,"m":209,"h":211},{"s":"Larch","w":1404,"l":205,"m":207,"h":209},{"s":"Larch","w":1431,"l":204,"m":206,"h":208},{"s":"Larch","w":1461,"l":231,"m":234,"h":237},{"s":"Larch","w":1492,"l":205,"m":207,"h":209},{"s":"Larch","w":1539,"l":202,"m":204,"h":206},{"s":"Larch","w":1593,"l":203,"m":206,"h":209},{"s":"Larch","w":1627,"l":194,"m":214,"h":227},{"s":"Larch","w":1661,"l":202,"m":219,"h":224},{"s":"Larch","w":1681,"l":223,"m":226,"h":229},{"s":"Larch","w":1708,"l":207,"m":209,"h":211},{"s":"Larch","w":1755,"l":202,"m":204,"h":206},{"s":"Larch","w":1809,"l":200,"m":202,"h":204},
{"s":"Larch","w":2816,"l":200,"m":202,"h":204},{"s":"Larch","w":2853,"l":245,"m":249,"h":253},{"s":"Larch","w":2880,"l":248,"m":252,"h":256},{"s":"Larch","w":2914,"l":257,"m":261,"h":265},{"s":"Larch","w":2947,"l":252,"m":256,"h":260},{"s":"Larch","w":2981,"l":226,"m":229,"h":232},{"s":"Larch","w":3001,"l":208,"m":211,"h":214},{"s":"Larch","w":3028,"l":209,"m":212,"h":215},{"s":"Larch","w":3055,"l":203,"m":206,"h":209},{"s":"Larch","w":3096,"l":206,"m":209,"h":212},{"s":"Larch","w":3116,"l":205,"m":207,"h":209},
{"s":"Hazel","w":816,"l":111,"m":113,"h":115},{"s":"Hazel","w":850,"l":115,"m":117,"h":119},{"s":"Hazel","w":880,"l":113,"m":115,"h":117},{"s":"Hazel","w":920,"l":115,"m":117,"h":119},{"s":"Hazel","w":960,"l":117,"m":119,"h":121},{"s":"Hazel","w":1000,"l":115,"m":117,"h":119},{"s":"Hazel","w":1040,"l":118,"m":120,"h":122},{"s":"Hazel","w":1080,"l":116,"m":118,"h":120},{"s":"Hazel","w":1120,"l":119,"m":121,"h":123},{"s":"Hazel","w":1160,"l":117,"m":119,"h":121},{"s":"Hazel","w":1182,"l":129,"m":132,"h":135},{"s":"Hazel","w":1200,"l":117,"m":119,"h":121},{"s":"Hazel","w":1240,"l":119,"m":121,"h":123},{"s":"Hazel","w":1280,"l":121,"m":123,"h":125},{"s":"Hazel","w":1325,"l":126,"m":129,"h":132},{"s":"Hazel","w":1360,"l":119,"m":121,"h":123},{"s":"Hazel","w":1400,"l":117,"m":119,"h":121},{"s":"Hazel","w":1430,"l":121,"m":123,"h":125},{"s":"Hazel","w":1452,"l":141,"m":144,"h":147},{"s":"Hazel","w":1480,"l":119,"m":121,"h":123},{"s":"Hazel","w":1507,"l":114,"m":116,"h":118},{"s":"Hazel","w":1540,"l":119,"m":126,"h":136},{"s":"Hazel","w":1575,"l":123,"m":136,"h":151},{"s":"Hazel","w":1600,"l":129,"m":149,"h":171},{"s":"Hazel","w":1620,"l":133,"m":156,"h":187},{"s":"Hazel","w":1645,"l":139,"m":151,"h":161},{"s":"Hazel","w":1670,"l":141,"m":146,"h":151},{"s":"Hazel","w":1690,"l":136,"m":139,"h":142},{"s":"Hazel","w":1720,"l":121,"m":123,"h":125},{"s":"Hazel","w":1750,"l":115,"m":117,"h":119},{"s":"Hazel","w":1780,"l":114,"m":116,"h":118},{"s":"Hazel","w":1809,"l":114,"m":116,"h":118},
{"s":"Hazel","w":2816,"l":112,"m":114,"h":116},{"s":"Hazel","w":2850,"l":128,"m":131,"h":134},{"s":"Hazel","w":2880,"l":147,"m":151,"h":155},{"s":"Hazel","w":2910,"l":161,"m":166,"h":171},{"s":"Hazel","w":2945,"l":165,"m":171,"h":177},{"s":"Hazel","w":2975,"l":154,"m":159,"h":164},{"s":"Hazel","w":3005,"l":132,"m":136,"h":140},{"s":"Hazel","w":3030,"l":116,"m":119,"h":122},{"s":"Hazel","w":3060,"l":114,"m":117,"h":120},{"s":"Hazel","w":3090,"l":114,"m":116,"h":118},{"s":"Hazel","w":3116,"l":115,"m":117,"h":119},
{"s":"Alder","w":816,"l":9,"m":11,"h":13},{"s":"Alder","w":850,"l":13,"m":15,"h":17},{"s":"Alder","w":880,"l":10,"m":12,"h":14},{"s":"Alder","w":920,"l":12,"m":14,"h":16},{"s":"Alder","w":960,"l":13,"m":15,"h":17},{"s":"Alder","w":1000,"l":11,"m":13,"h":15},{"s":"Alder","w":1040,"l":14,"m":16,"h":18},{"s":"Alder","w":1080,"l":13,"m":15,"h":17},{"s":"Alder","w":1120,"l":15,"m":17,"h":19},{"s":"Alder","w":1150,"l":12,"m":14,"h":16},{"s":"Alder","w":1180,"l":33,"m":36,"h":39},{"s":"Alder","w":1200,"l":13,"m":15,"h":17},{"s":"Alder","w":1240,"l":15,"m":17,"h":19},{"s":"Alder","w":1280,"l":17,"m":19,"h":21},{"s":"Alder","w":1325,"l":24,"m":27,"h":30},{"s":"Alder","w":1360,"l":15,"m":17,"h":19},{"s":"Alder","w":1400,"l":13,"m":15,"h":17},{"s":"Alder","w":1430,"l":17,"m":19,"h":21},{"s":"Alder","w":1452,"l":36,"m":39,"h":42},{"s":"Alder","w":1480,"l":15,"m":17,"h":19},{"s":"Alder","w":1507,"l":13,"m":15,"h":17},{"s":"Alder","w":1540,"l":21,"m":27,"h":34},{"s":"Alder","w":1575,"l":31,"m":44,"h":54},{"s":"Alder","w":1600,"l":49,"m":74,"h":89},{"s":"Alder","w":1615,"l":59,"m":87,"h":104},{"s":"Alder","w":1635,"l":54,"m":69,"h":81},{"s":"Alder","w":1660,"l":44,"m":51,"h":57},{"s":"Alder","w":1680,"l":36,"m":39,"h":42},{"s":"Alder","w":1710,"l":17,"m":19,"h":21},{"s":"Alder","w":1740,"l":12,"m":14,"h":16},{"s":"Alder","w":1780,"l":11,"m":13,"h":15},{"s":"Alder","w":1809,"l":11,"m":13,"h":15},
{"s":"Alder","w":2816,"l":10,"m":12,"h":14},{"s":"Alder","w":2850,"l":31,"m":34,"h":37},{"s":"Alder","w":2880,"l":57,"m":61,"h":65},{"s":"Alder","w":2915,"l":73,"m":77,"h":81},{"s":"Alder","w":2945,"l":80,"m":84,"h":88},{"s":"Alder","w":2975,"l":65,"m":69,"h":73},{"s":"Alder","w":3005,"l":34,"m":37,"h":40},{"s":"Alder","w":3030,"l":16,"m":19,"h":22},{"s":"Alder","w":3060,"l":12,"m":15,"h":18},{"s":"Alder","w":3090,"l":12,"m":14,"h":16},{"s":"Alder","w":3116,"l":11,"m":13,"h":15}
],
"f":[
{"s":"Moor grass","w":816,"l":276,"m":278,"h":280},{"s":"Moor grass","w":850,"l":279,"m":281,"h":283},{"s":"Moor grass","w":880,"l":283,"m":285,"h":287},{"s":"Moor grass","w":920,"l":281,"m":283,"h":285},{"s":"Moor grass","w":960,"l":285,"m":287,"h":289},{"s":"Moor grass","w":1000,"l":282,"m":284,"h":286},{"s":"Moor grass","w":1040,"l":287,"m":289,"h":291},{"s":"Moor grass","w":1080,"l":285,"m":287,"h":289},{"s":"Moor grass","w":1120,"l":288,"m":290,"h":292},{"s":"Moor grass","w":1160,"l":284,"m":286,"h":288},{"s":"Moor grass","w":1200,"l":287,"m":289,"h":291},{"s":"Moor grass","w":1240,"l":285,"m":287,"h":289},{"s":"Moor grass","w":1280,"l":288,"m":290,"h":292},{"s":"Moor grass","w":1320,"l":286,"m":288,"h":290},{"s":"Moor grass","w":1360,"l":285,"m":287,"h":289},{"s":"Moor grass","w":1400,"l":283,"m":285,"h":287},{"s":"Moor grass","w":1430,"l":285,"m":287,"h":289},{"s":"Moor grass","w":1452,"l":302,"m":305,"h":308},{"s":"Moor grass","w":1480,"l":285,"m":287,"h":289},{"s":"Moor grass","w":1510,"l":281,"m":283,"h":285},{"s":"Moor grass","w":1550,"l":287,"m":290,"h":293},{"s":"Moor grass","w":1600,"l":293,"m":297,"h":301},{"s":"Moor grass","w":1640,"l":295,"m":303,"h":311},{"s":"Moor grass","w":1665,"l":299,"m":307,"h":313},{"s":"Moor grass","w":1690,"l":294,"m":297,"h":300},{"s":"Moor grass","w":1715,"l":281,"m":283,"h":285},{"s":"Moor grass","w":1750,"l":278,"m":280,"h":282},{"s":"Moor grass","w":1780,"l":277,"m":279,"h":281},{"s":"Moor grass","w":1809,"l":276,"m":278,"h":280},
{"s":"Moor grass","w":2816,"l":275,"m":277,"h":279},{"s":"Moor grass","w":2850,"l":287,"m":290,"h":293},{"s":"Moor grass","w":2880,"l":309,"m":313,"h":317},{"s":"Moor grass","w":2915,"l":331,"m":335,"h":339},{"s":"Moor grass","w":2945,"l":341,"m":345,"h":349},{"s":"Moor grass","w":2975,"l":326,"m":330,"h":334},{"s":"Moor grass","w":3005,"l":297,"m":300,"h":303},{"s":"Moor grass","w":3030,"l":281,"m":283,"h":285},{"s":"Moor grass","w":3060,"l":278,"m":280,"h":282},{"s":"Moor grass","w":3090,"l":277,"m":279,"h":281},{"s":"Moor grass","w":3116,"l":276,"m":278,"h":280},
{"s":"Mugwort","w":816,"l":182,"m":184,"h":186},{"s":"Mugwort","w":850,"l":185,"m":187,"h":189},{"s":"Mugwort","w":880,"l":184,"m":186,"h":188},{"s":"Mugwort","w":920,"l":186,"m":188,"h":190},{"s":"Mugwort","w":960,"l":187,"m":189,"h":191},{"s":"Mugwort","w":1000,"l":186,"m":188,"h":190},{"s":"Mugwort","w":1040,"l":188,"m":190,"h":192},{"s":"Mugwort","w":1080,"l":187,"m":189,"h":191},{"s":"Mugwort","w":1120,"l":189,"m":191,"h":193},{"s":"Mugwort","w":1160,"l":188,"m":190,"h":192},{"s":"Mugwort","w":1200,"l":194,"m":196,"h":198},{"s":"Mugwort","w":1240,"l":198,"m":200,"h":202},{"s":"Mugwort","w":1280,"l":192,"m":194,"h":196},{"s":"Mugwort","w":1320,"l":195,"m":197,"h":199},{"s":"Mugwort","w":1360,"l":190,"m":192,"h":194},{"s":"Mugwort","w":1400,"l":188,"m":190,"h":192},{"s":"Mugwort","w":1430,"l":190,"m":192,"h":194},{"s":"Mugwort","w":1452,"l":211,"m":214,"h":217},{"s":"Mugwort","w":1480,"l":190,"m":192,"h":194},{"s":"Mugwort","w":1510,"l":186,"m":188,"h":190},{"s":"Mugwort","w":1550,"l":191,"m":194,"h":197},{"s":"Mugwort","w":1585,"l":217,"m":222,"h":227},{"s":"Mugwort","w":1610,"l":252,"m":267,"h":274},{"s":"Mugwort","w":1630,"l":232,"m":237,"h":242},{"s":"Mugwort","w":1655,"l":234,"m":244,"h":252},{"s":"Mugwort","w":1680,"l":213,"m":217,"h":221},{"s":"Mugwort","w":1700,"l":191,"m":194,"h":197},{"s":"Mugwort","w":1730,"l":185,"m":187,"h":189},{"s":"Mugwort","w":1770,"l":184,"m":186,"h":188},{"s":"Mugwort","w":1809,"l":183,"m":185,"h":187},
{"s":"Mugwort","w":2816,"l":183,"m":185,"h":187},{"s":"Mugwort","w":2850,"l":196,"m":200,"h":204},{"s":"Mugwort","w":2880,"l":214,"m":220,"h":226},{"s":"Mugwort","w":2915,"l":230,"m":237,"h":244},{"s":"Mugwort","w":2945,"l":234,"m":245,"h":254},{"s":"Mugwort","w":2975,"l":227,"m":234,"h":241},{"s":"Mugwort","w":3005,"l":205,"m":210,"h":215},{"s":"Mugwort","w":3030,"l":189,"m":192,"h":195},{"s":"Mugwort","w":3060,"l":185,"m":188,"h":191},{"s":"Mugwort","w":3090,"l":184,"m":187,"h":190},{"s":"Mugwort","w":3116,"l":185,"m":187,"h":189},
{"s":"Rumex","w":816,"l":102,"m":104,"h":106},{"s":"Rumex","w":850,"l":105,"m":108,"h":111},{"s":"Rumex","w":880,"l":109,"m":112,"h":115},{"s":"Rumex","w":920,"l":107,"m":110,"h":113},{"s":"Rumex","w":960,"l":109,"m":112,"h":115},{"s":"Rumex","w":1000,"l":107,"m":110,"h":113},{"s":"Rumex","w":1040,"l":111,"m":114,"h":117},{"s":"Rumex","w":1080,"l":109,"m":112,"h":115},{"s":"Rumex","w":1120,"l":113,"m":116,"h":119},{"s":"Rumex","w":1160,"l":109,"m":112,"h":115},{"s":"Rumex","w":1200,"l":113,"m":116,"h":119},{"s":"Rumex","w":1240,"l":111,"m":114,"h":117},{"s":"Rumex","w":1280,"l":115,"m":118,"h":121},{"s":"Rumex","w":1320,"l":119,"m":122,"h":125},{"s":"Rumex","w":1360,"l":111,"m":114,"h":117},{"s":"Rumex","w":1400,"l":109,"m":112,"h":115},{"s":"Rumex","w":1430,"l":111,"m":114,"h":117},{"s":"Rumex","w":1452,"l":134,"m":137,"h":140},{"s":"Rumex","w":1480,"l":111,"m":114,"h":117},{"s":"Rumex","w":1510,"l":107,"m":110,"h":113},{"s":"Rumex","w":1550,"l":113,"m":117,"h":121},{"s":"Rumex","w":1600,"l":118,"m":127,"h":134},{"s":"Rumex","w":1640,"l":124,"m":135,"h":140},{"s":"Rumex","w":1665,"l":127,"m":137,"h":142},{"s":"Rumex","w":1690,"l":120,"m":124,"h":128},{"s":"Rumex","w":1715,"l":107,"m":110,"h":113},{"s":"Rumex","w":1750,"l":105,"m":108,"h":111},{"s":"Rumex","w":1780,"l":104,"m":107,"h":110},{"s":"Rumex","w":1809,"l":104,"m":106,"h":108},
{"s":"Rumex","w":2816,"l":103,"m":105,"h":107},{"s":"Rumex","w":2850,"l":116,"m":120,"h":124},{"s":"Rumex","w":2880,"l":138,"m":144,"h":150},{"s":"Rumex","w":2915,"l":154,"m":160,"h":166},{"s":"Rumex","w":2945,"l":161,"m":167,"h":173},{"s":"Rumex","w":2975,"l":146,"m":152,"h":158},{"s":"Rumex","w":3005,"l":122,"m":127,"h":132},{"s":"Rumex","w":3030,"l":110,"m":114,"h":118},{"s":"Rumex","w":3060,"l":108,"m":112,"h":116},{"s":"Rumex","w":3090,"l":106,"m":110,"h":114},{"s":"Rumex","w":3116,"l":109,"m":112,"h":115},
{"s":"Cyclamen","w":816,"l":9,"m":11,"h":13},{"s":"Cyclamen","w":850,"l":12,"m":14,"h":16},{"s":"Cyclamen","w":880,"l":15,"m":17,"h":19},{"s":"Cyclamen","w":920,"l":13,"m":15,"h":17},{"s":"Cyclamen","w":960,"l":16,"m":18,"h":20},{"s":"Cyclamen","w":1000,"l":14,"m":16,"h":18},{"s":"Cyclamen","w":1040,"l":17,"m":19,"h":21},{"s":"Cyclamen","w":1080,"l":15,"m":17,"h":19},{"s":"Cyclamen","w":1120,"l":17,"m":19,"h":21},{"s":"Cyclamen","w":1160,"l":15,"m":17,"h":19},{"s":"Cyclamen","w":1200,"l":21,"m":23,"h":25},{"s":"Cyclamen","w":1240,"l":25,"m":27,"h":29},{"s":"Cyclamen","w":1280,"l":21,"m":23,"h":25},{"s":"Cyclamen","w":1320,"l":23,"m":25,"h":27},{"s":"Cyclamen","w":1360,"l":17,"m":19,"h":21},{"s":"Cyclamen","w":1400,"l":15,"m":17,"h":19},{"s":"Cyclamen","w":1430,"l":17,"m":19,"h":21},{"s":"Cyclamen","w":1452,"l":36,"m":39,"h":42},{"s":"Cyclamen","w":1480,"l":15,"m":17,"h":19},{"s":"Cyclamen","w":1510,"l":12,"m":14,"h":16},{"s":"Cyclamen","w":1550,"l":21,"m":24,"h":27},{"s":"Cyclamen","w":1585,"l":50,"m":54,"h":58},{"s":"Cyclamen","w":1610,"l":87,"m":97,"h":104},{"s":"Cyclamen","w":1630,"l":67,"m":71,"h":75},{"s":"Cyclamen","w":1655,"l":69,"m":77,"h":84},{"s":"Cyclamen","w":1680,"l":45,"m":49,"h":53},{"s":"Cyclamen","w":1700,"l":19,"m":21,"h":23},{"s":"Cyclamen","w":1730,"l":12,"m":14,"h":16},{"s":"Cyclamen","w":1770,"l":11,"m":13,"h":15},{"s":"Cyclamen","w":1809,"l":10,"m":12,"h":14},
{"s":"Cyclamen","w":2816,"l":10,"m":12,"h":14},{"s":"Cyclamen","w":2850,"l":24,"m":27,"h":30},{"s":"Cyclamen","w":2880,"l":47,"m":51,"h":55},{"s":"Cyclamen","w":2915,"l":65,"m":69,"h":73},{"s":"Cyclamen","w":2945,"l":73,"m":77,"h":81},{"s":"Cyclamen","w":2975,"l":60,"m":64,"h":68},{"s":"Cyclamen","w":3005,"l":34,"m":37,"h":40},{"s":"Cyclamen","w":3030,"l":16,"m":19,"h":22},{"s":"Cyclamen","w":3060,"l":12,"m":15,"h":18},{"s":"Cyclamen","w":3090,"l":11,"m":14,"h":17},{"s":"Cyclamen","w":3116,"l":13,"m":15,"h":17}
]
},
"columns":3,
"spacing":{"row":2,"column":2},
"concat":[
{"width":413,"height":372,
"encoding":{"color":{"field":"s","type":"nominal","legend":null,"scale":{"domain":["Birch","Larch","Hazel","Alder","Moor grass","Mugwort","Rumex","Cyclamen"],"range":["#1f9bf0","#5bd31e","#f5201e","#1a1a1a","#1f9bf0","#5bd31e","#f5201e","#1a1a1a"]}}},
"layer":[
{"data":{"name":"aL"},"mark":{"type":"rule","strokeDash":[4,3],"strokeWidth":1},"encoding":{"y":{"field":"b","type":"quantitative","scale":{"domain":[0,372],"nice":false},"title":"Raman Intensity"}}},
{"layer":[
{"data":{"name":"a"},"transform":[{"filter":"datum.w < 2000"}],"mark":{"type":"area","interpolate":"monotone","opacity":0.4},"encoding":{"x":{"field":"w","type":"quantitative","scale":{"domain":[736.4,1922.9],"range":[0,292.7],"nice":false,"zero":false},"axis":{"values":[800,1000,1200,1400,1600,1800],"labels":false,"title":null,"orient":"bottom"}},"y":{"field":"l","type":"quantitative","scale":{"domain":[0,372],"nice":false},"title":"Raman Intensity"},"y2":{"field":"h"}}},
{"data":{"name":"a"},"transform":[{"filter":"datum.w < 2000"}],"mark":{"type":"line","interpolate":"monotone","strokeWidth":1},"encoding":{"x":{"field":"w","type":"quantitative","scale":{"domain":[736.4,1922.9],"range":[0,292.7],"nice":false,"zero":false},"axis":{"values":[800,1000,1200,1400,1600,1800],"labels":false,"title":null,"orient":"bottom"}},"y":{"field":"l","type":"quantitative","scale":{"domain":[0,372],"nice":false},"title":"Raman Intensity"}}},
{"data":{"name":"a"},"transform":[{"filter":"datum.w < 2000"}],"mark":{"type":"line","interpolate":"monotone","strokeWidth":1},"encoding":{"x":{"field":"w","type":"quantitative","scale":{"domain":[736.4,1922.9],"range":[0,292.7],"nice":false,"zero":false},"axis":{"values":[800,1000,1200,1400,1600,1800],"labels":false,"title":null,"orient":"bottom"}},"y":{"field":"m","type":"quantitative","scale":{"domain":[0,372],"nice":false},"title":"Raman Intensity"}}},
{"data":{"name":"a"},"transform":[{"filter":"datum.w < 2000"}],"mark":{"type":"line","interpolate":"monotone","strokeWidth":1},"encoding":{"x":{"field":"w","type":"quantitative","scale":{"domain":[736.4,1922.9],"range":[0,292.7],"nice":false,"zero":false},"axis":{"values":[800,1000,1200,1400,1600,1800],"labels":false,"title":null,"orient":"bottom"}},"y":{"field":"h","type":"quantitative","scale":{"domain":[0,372],"nice":false},"title":"Raman Intensity"}}},
{"data":{"name":"aL"},"mark":{"type":"text","align":"left","baseline":"middle","fontSize":17},"encoding":{"x":{"datum":946,"type":"quantitative"},"y":{"field":"ly","type":"quantitative","scale":{"domain":[0,372],"nice":false},"title":"Raman Intensity"},"text":{"field":"s"}}},
{"data":{"name":"one"},"mark":{"type":"text","align":"left","baseline":"alphabetic","fontSize":26,"fontWeight":"bold","color":"#000"},"encoding":{"x":{"datum":789,"type":"quantitative"},"y":{"datum":341,"type":"quantitative"},"text":{"value":"a"},"color":{"value":"#000"}}},
{"data":{"name":"one"},"mark":{"type":"text","align":"center","baseline":"middle","fontSize":13,"color":"#333"},"encoding":{"x":{"datum":1923,"type":"quantitative"},"y":{"datum":0,"type":"quantitative"},"text":{"value":"∿"},"color":{"value":"#333"}}}
]},
{"layer":[
{"data":{"name":"a"},"transform":[{"filter":"datum.w > 2000"}],"mark":{"type":"area","interpolate":"monotone","opacity":0.4},"encoding":{"x":{"field":"w","type":"quantitative","scale":{"domain":[2671.9,3159.5],"range":[292.7,413],"nice":false,"zero":false},"axis":{"values":[2800,3000],"labels":false,"title":null,"orient":"bottom"}},"y":{"field":"l","type":"quantitative","scale":{"domain":[0,372],"nice":false},"title":"Raman Intensity"},"y2":{"field":"h"}}},
{"data":{"name":"a"},"transform":[{"filter":"datum.w > 2000"}],"mark":{"type":"line","interpolate":"monotone","strokeWidth":1},"encoding":{"x":{"field":"w","type":"quantitative","scale":{"domain":[2671.9,3159.5],"range":[292.7,413],"nice":false,"zero":false},"axis":{"values":[2800,3000],"labels":false,"title":null,"orient":"bottom"}},"y":{"field":"l","type":"quantitative","scale":{"domain":[0,372],"nice":false},"title":"Raman Intensity"}}},
{"data":{"name":"a"},"transform":[{"filter":"datum.w > 2000"}],"mark":{"type":"line","interpolate":"monotone","strokeWidth":1},"encoding":{"x":{"field":"w","type":"quantitative","scale":{"domain":[2671.9,3159.5],"range":[292.7,413],"nice":false,"zero":false},"axis":{"values":[2800,3000],"labels":false,"title":null,"orient":"bottom"}},"y":{"field":"m","type":"quantitative","scale":{"domain":[0,372],"nice":false},"title":"Raman Intensity"}}},
{"data":{"name":"a"},"transform":[{"filter":"datum.w > 2000"}],"mark":{"type":"line","interpolate":"monotone","strokeWidth":1},"encoding":{"x":{"field":"w","type":"quantitative","scale":{"domain":[2671.9,3159.5],"range":[292.7,413],"nice":false,"zero":false},"axis":{"values":[2800,3000],"labels":false,"title":null,"orient":"bottom"}},"y":{"field":"h","type":"quantitative","scale":{"domain":[0,372],"nice":false},"title":"Raman Intensity"}}},
{"data":{"name":"one"},"mark":{"type":"text","align":"center","baseline":"alphabetic","fontSize":20,"color":"#000"},"encoding":{"x":{"datum":2968,"type":"quantitative"},"y":{"datum":348,"type":"quantitative"},"text":{"value":"x 0.5"},"color":{"value":"#000"}}}
]}
],
"resolve":{"scale":{"x":"independent"},"axis":{"x":"independent"}}
},
{"width":413,"height":372,
"encoding":{"color":{"field":"s","type":"nominal","legend":null,"scale":{"domain":["Birch","Larch","Hazel","Alder","Moor grass","Mugwort","Rumex","Cyclamen"],"range":["#1f9bf0","#5bd31e","#f5201e","#1a1a1a","#1f9bf0","#5bd31e","#f5201e","#1a1a1a"]}}},
"layer":[
{"data":{"name":"cL"},"mark":{"type":"rule","strokeDash":[4,3],"strokeWidth":1},"encoding":{"y":{"field":"b","type":"quantitative","scale":{"domain":[0,372],"nice":false},"axis":null}}},
{"layer":[
{"data":{"name":"c"},"transform":[{"filter":"datum.w < 2000"}],"mark":{"type":"area","interpolate":"monotone","opacity":0.4},"encoding":{"x":{"field":"w","type":"quantitative","scale":{"domain":[736.4,1922.9],"range":[0,292.7],"nice":false,"zero":false},"axis":{"values":[800,1000,1200,1400,1600,1800],"labels":false,"title":null,"orient":"bottom"}},"y":{"field":"l","type":"quantitative","scale":{"domain":[0,372],"nice":false},"axis":null},"y2":{"field":"h"}}},
{"data":{"name":"c"},"transform":[{"filter":"datum.w < 2000"}],"mark":{"type":"line","interpolate":"monotone","strokeWidth":1},"encoding":{"x":{"field":"w","type":"quantitative","scale":{"domain":[736.4,1922.9],"range":[0,292.7],"nice":false,"zero":false},"axis":{"values":[800,1000,1200,1400,1600,1800],"labels":false,"title":null,"orient":"bottom"}},"y":{"field":"l","type":"quantitative","scale":{"domain":[0,372],"nice":false},"axis":null}}},
{"data":{"name":"c"},"transform":[{"filter":"datum.w < 2000"}],"mark":{"type":"line","interpolate":"monotone","strokeWidth":1},"encoding":{"x":{"field":"w","type":"quantitative","scale":{"domain":[736.4,1922.9],"range":[0,292.7],"nice":false,"zero":false},"axis":{"values":[800,1000,1200,1400,1600,1800],"labels":false,"title":null,"orient":"bottom"}},"y":{"field":"m","type":"quantitative","scale":{"domain":[0,372],"nice":false},"axis":null}}},
{"data":{"name":"c"},"transform":[{"filter":"datum.w < 2000"}],"mark":{"type":"line","interpolate":"monotone","strokeWidth":1},"encoding":{"x":{"field":"w","type":"quantitative","scale":{"domain":[736.4,1922.9],"range":[0,292.7],"nice":false,"zero":false},"axis":{"values":[800,1000,1200,1400,1600,1800],"labels":false,"title":null,"orient":"bottom"}},"y":{"field":"h","type":"quantitative","scale":{"domain":[0,372],"nice":false},"axis":null}}},
{"data":{"name":"cL"},"mark":{"type":"text","align":"left","baseline":"middle","fontSize":17},"encoding":{"x":{"datum":942,"type":"quantitative"},"y":{"field":"ly","type":"quantitative","scale":{"domain":[0,372],"nice":false},"axis":null},"text":{"field":"s"}}},
{"data":{"name":"one"},"mark":{"type":"text","align":"left","baseline":"alphabetic","fontSize":26,"fontWeight":"bold","color":"#000"},"encoding":{"x":{"datum":788,"type":"quantitative"},"y":{"datum":341,"type":"quantitative"},"text":{"value":"c"},"color":{"value":"#000"}}},
{"data":{"name":"one"},"mark":{"type":"text","align":"center","baseline":"middle","fontSize":13,"color":"#333"},"encoding":{"x":{"datum":1923,"type":"quantitative"},"y":{"datum":0,"type":"quantitative"},"text":{"value":"∿"},"color":{"value":"#333"}}}
]},
{"layer":[
{"data":{"name":"c"},"transform":[{"filter":"datum.w > 2000"}],"mark":{"type":"area","interpolate":"monotone","opacity":0.4},"encoding":{"x":{"field":"w","type":"quantitative","scale":{"domain":[2671.9,3159.5],"range":[292.7,413],"nice":false,"zero":false},"axis":{"values":[2800,3000],"labels":false,"title":null,"orient":"bottom"}},"y":{"field":"l","type":"quantitative","scale":{"domain":[0,372],"nice":false},"axis":null},"y2":{"field":"h"}}},
{"data":{"name":"c"},"transform":[{"filter":"datum.w > 2000"}],"mark":{"type":"line","interpolate":"monotone","strokeWidth":1},"encoding":{"x":{"field":"w","type":"quantitative","scale":{"domain":[2671.9,3159.5],"range":[292.7,413],"nice":false,"zero":false},"axis":{"values":[2800,3000],"labels":false,"title":null,"orient":"bottom"}},"y":{"field":"l","type":"quantitative","scale":{"domain":[0,372],"nice":false},"axis":null}}},
{"data":{"name":"c"},"transform":[{"filter":"datum.w > 2000"}],"mark":{"type":"line","interpolate":"monotone","strokeWidth":1},"encoding":{"x":{"field":"w","type":"quantitative","scale":{"domain":[2671.9,3159.5],"range":[292.7,413],"nice":false,"zero":false},"axis":{"values":[2800,3000],"labels":false,"title":null,"orient":"bottom"}},"y":{"field":"m","type":"quantitative","scale":{"domain":[0,372],"nice":false},"axis":null}}},
{"data":{"name":"c"},"transform":[{"filter":"datum.w > 2000"}],"mark":{"type":"line","interpolate":"monotone","strokeWidth":1},"encoding":{"x":{"field":"w","type":"quantitative","scale":{"domain":[2671.9,3159.5],"range":[292.7,413],"nice":false,"zero":false},"axis":{"values":[2800,3000],"labels":false,"title":null,"orient":"bottom"}},"y":{"field":"h","type":"quantitative","scale":{"domain":[0,372],"nice":false},"axis":null}}},
{"data":{"name":"one"},"mark":{"type":"text","align":"center","baseline":"alphabetic","fontSize":20,"color":"#000"},"encoding":{"x":{"datum":2968,"type":"quantitative"},"y":{"datum":348,"type":"quantitative"},"text":{"value":"x 0.5"},"color":{"value":"#000"}}}
]}
],
"resolve":{"scale":{"x":"independent"},"axis":{"x":"independent"}}
},
{"width":405,"height":372,
"encoding":{"color":{"field":"s","type":"nominal","legend":null,"scale":{"domain":["Birch","Larch","Hazel","Alder","Moor grass","Mugwort","Rumex","Cyclamen"],"range":["#1f9bf0","#5bd31e","#f5201e","#1a1a1a","#1f9bf0","#5bd31e","#f5201e","#1a1a1a"]}}},
"layer":[
{"data":{"name":"eL"},"mark":{"type":"rule","strokeDash":[4,3],"strokeWidth":1},"encoding":{"y":{"field":"b","type":"quantitative","scale":{"domain":[0,372],"nice":false},"axis":null}}},
{"layer":[
{"data":{"name":"e"},"transform":[{"filter":"datum.w < 2000"}],"mark":{"type":"area","opacity":0.4},"encoding":{"x":{"field":"w","type":"quantitative","scale":{"domain":[736.4,1922.9],"range":[0,292.7],"nice":false,"zero":false},"axis":{"values":[800,1000,1200,1400,1600,1800],"labels":false,"title":null,"orient":"bottom"}},"y":{"field":"l","type":"quantitative","scale":{"domain":[0,372],"nice":false},"axis":null},"y2":{"field":"h"}}},
{"data":{"name":"e"},"transform":[{"filter":"datum.w < 2000"}],"mark":{"type":"line","strokeWidth":1},"encoding":{"x":{"field":"w","type":"quantitative","scale":{"domain":[736.4,1922.9],"range":[0,292.7],"nice":false,"zero":false},"axis":{"values":[800,1000,1200,1400,1600,1800],"labels":false,"title":null,"orient":"bottom"}},"y":{"field":"l","type":"quantitative","scale":{"domain":[0,372],"nice":false},"axis":null}}},
{"data":{"name":"e"},"transform":[{"filter":"datum.w < 2000"}],"mark":{"type":"line","strokeWidth":1},"encoding":{"x":{"field":"w","type":"quantitative","scale":{"domain":[736.4,1922.9],"range":[0,292.7],"nice":false,"zero":false},"axis":{"values":[800,1000,1200,1400,1600,1800],"labels":false,"title":null,"orient":"bottom"}},"y":{"field":"m","type":"quantitative","scale":{"domain":[0,372],"nice":false},"axis":null}}},
{"data":{"name":"e"},"transform":[{"filter":"datum.w < 2000"}],"mark":{"type":"line","strokeWidth":1},"encoding":{"x":{"field":"w","type":"quantitative","scale":{"domain":[736.4,1922.9],"range":[0,292.7],"nice":false,"zero":false},"axis":{"values":[800,1000,1200,1400,1600,1800],"labels":false,"title":null,"orient":"bottom"}},"y":{"field":"h","type":"quantitative","scale":{"domain":[0,372],"nice":false},"axis":null}}},
{"data":{"name":"eL"},"mark":{"type":"text","align":"left","baseline":"middle","fontSize":17},"encoding":{"x":{"datum":958,"type":"quantitative"},"y":{"field":"ly","type":"quantitative","scale":{"domain":[0,372],"nice":false},"axis":null},"text":{"field":"s"}}},
{"data":{"name":"one"},"mark":{"type":"text","align":"left","baseline":"alphabetic","fontSize":26,"fontWeight":"bold","color":"#000"},"encoding":{"x":{"datum":801,"type":"quantitative"},"y":{"datum":340,"type":"quantitative"},"text":{"value":"e"},"color":{"value":"#000"}}},
{"data":{"name":"one"},"mark":{"type":"text","align":"center","baseline":"middle","fontSize":13,"color":"#333"},"encoding":{"x":{"datum":1923,"type":"quantitative"},"y":{"datum":0,"type":"quantitative"},"text":{"value":"∿"},"color":{"value":"#333"}}}
]},
{"layer":[
{"data":{"name":"e"},"transform":[{"filter":"datum.w > 2000"}],"mark":{"type":"area","opacity":0.4},"encoding":{"x":{"field":"w","type":"quantitative","scale":{"domain":[2671.9,3127.1],"range":[292.7,405],"nice":false,"zero":false},"axis":{"values":[2800,3000],"labels":false,"title":null,"orient":"bottom"}},"y":{"field":"l","type":"quantitative","scale":{"domain":[0,372],"nice":false},"axis":null},"y2":{"field":"h"}}},
{"data":{"name":"e"},"transform":[{"filter":"datum.w > 2000"}],"mark":{"type":"line","strokeWidth":1},"encoding":{"x":{"field":"w","type":"quantitative","scale":{"domain":[2671.9,3127.1],"range":[292.7,405],"nice":false,"zero":false},"axis":{"values":[2800,3000],"labels":false,"title":null,"orient":"bottom"}},"y":{"field":"l","type":"quantitative","scale":{"domain":[0,372],"nice":false},"axis":null}}},
{"data":{"name":"e"},"transform":[{"filter":"datum.w > 2000"}],"mark":{"type":"line","strokeWidth":1},"encoding":{"x":{"field":"w","type":"quantitative","scale":{"domain":[2671.9,3127.1],"range":[292.7,405],"nice":false,"zero":false},"axis":{"values":[2800,3000],"labels":false,"title":null,"orient":"bottom"}},"y":{"field":"m","type":"quantitative","scale":{"domain":[0,372],"nice":false},"axis":null}}},
{"data":{"name":"e"},"transform":[{"filter":"datum.w > 2000"}],"mark":{"type":"line","strokeWidth":1},"encoding":{"x":{"field":"w","type":"quantitative","scale":{"domain":[2671.9,3127.1],"range":[292.7,405],"nice":false,"zero":false},"axis":{"values":[2800,3000],"labels":false,"title":null,"orient":"bottom"}},"y":{"field":"h","type":"quantitative","scale":{"domain":[0,372],"nice":false},"axis":null}}},
{"data":{"name":"one"},"mark":{"type":"text","align":"center","baseline":"alphabetic","fontSize":20,"color":"#000"},"encoding":{"x":{"datum":2968,"type":"quantitative"},"y":{"datum":348,"type":"quantitative"},"text":{"value":"x 0.5"},"color":{"value":"#000"}}}
]}
],
"resolve":{"scale":{"x":"independent"},"axis":{"x":"independent"}}
},
{"width":413,"height":372,
"encoding":{"color":{"field":"s","type":"nominal","legend":null,"scale":{"domain":["Birch","Larch","Hazel","Alder","Moor grass","Mugwort","Rumex","Cyclamen"],"range":["#1f9bf0","#5bd31e","#f5201e","#1a1a1a","#1f9bf0","#5bd31e","#f5201e","#1a1a1a"]}}},
"layer":[
{"data":{"name":"bL"},"mark":{"type":"rule","strokeDash":[4,3],"strokeWidth":1},"encoding":{"y":{"field":"b","type":"quantitative","scale":{"domain":[0,372],"nice":false},"title":"Raman Intensity"}}},
{"layer":[
{"data":{"name":"b"},"transform":[{"filter":"datum.w < 2000"}],"mark":{"type":"area","interpolate":"monotone","opacity":0.4},"encoding":{"x":{"field":"w","type":"quantitative","scale":{"domain":[736.4,1922.9],"range":[0,292.7],"nice":false,"zero":false},"axis":{"values":[800,1000,1200,1400,1600,1800],"format":"d","title":"Wavenumber [cm⁻¹]","titleX":206,"titleAlign":"center","orient":"bottom"}},"y":{"field":"l","type":"quantitative","scale":{"domain":[0,372],"nice":false},"title":"Raman Intensity"},"y2":{"field":"h"}}},
{"data":{"name":"b"},"transform":[{"filter":"datum.w < 2000"}],"mark":{"type":"line","interpolate":"monotone","strokeWidth":1},"encoding":{"x":{"field":"w","type":"quantitative","scale":{"domain":[736.4,1922.9],"range":[0,292.7],"nice":false,"zero":false},"axis":{"values":[800,1000,1200,1400,1600,1800],"format":"d","title":"Wavenumber [cm⁻¹]","titleX":206,"titleAlign":"center","orient":"bottom"}},"y":{"field":"l","type":"quantitative","scale":{"domain":[0,372],"nice":false},"title":"Raman Intensity"}}},
{"data":{"name":"b"},"transform":[{"filter":"datum.w < 2000"}],"mark":{"type":"line","interpolate":"monotone","strokeWidth":1},"encoding":{"x":{"field":"w","type":"quantitative","scale":{"domain":[736.4,1922.9],"range":[0,292.7],"nice":false,"zero":false},"axis":{"values":[800,1000,1200,1400,1600,1800],"format":"d","title":"Wavenumber [cm⁻¹]","titleX":206,"titleAlign":"center","orient":"bottom"}},"y":{"field":"m","type":"quantitative","scale":{"domain":[0,372],"nice":false},"title":"Raman Intensity"}}},
{"data":{"name":"b"},"transform":[{"filter":"datum.w < 2000"}],"mark":{"type":"line","interpolate":"monotone","strokeWidth":1},"encoding":{"x":{"field":"w","type":"quantitative","scale":{"domain":[736.4,1922.9],"range":[0,292.7],"nice":false,"zero":false},"axis":{"values":[800,1000,1200,1400,1600,1800],"format":"d","title":"Wavenumber [cm⁻¹]","titleX":206,"titleAlign":"center","orient":"bottom"}},"y":{"field":"h","type":"quantitative","scale":{"domain":[0,372],"nice":false},"title":"Raman Intensity"}}},
{"data":{"name":"bL"},"mark":{"type":"text","align":"left","baseline":"middle","fontSize":17},"encoding":{"x":{"datum":946,"type":"quantitative"},"y":{"field":"ly","type":"quantitative","scale":{"domain":[0,372],"nice":false},"title":"Raman Intensity"},"text":{"field":"s"}}},
{"data":{"name":"one"},"mark":{"type":"text","align":"left","baseline":"alphabetic","fontSize":26,"fontWeight":"bold","color":"#000"},"encoding":{"x":{"datum":789,"type":"quantitative"},"y":{"datum":342,"type":"quantitative"},"text":{"value":"b"},"color":{"value":"#000"}}},
{"data":{"name":"one"},"mark":{"type":"text","align":"center","baseline":"middle","fontSize":13,"color":"#333"},"encoding":{"x":{"datum":1923,"type":"quantitative"},"y":{"datum":0,"type":"quantitative"},"text":{"value":"∿"},"color":{"value":"#333"}}}
]},
{"layer":[
{"data":{"name":"b"},"transform":[{"filter":"datum.w > 2000"}],"mark":{"type":"area","interpolate":"monotone","opacity":0.4},"encoding":{"x":{"field":"w","type":"quantitative","scale":{"domain":[2671.9,3159.5],"range":[292.7,413],"nice":false,"zero":false},"axis":{"values":[2800,3000],"format":"d","title":null,"orient":"bottom"}},"y":{"field":"l","type":"quantitative","scale":{"domain":[0,372],"nice":false},"title":"Raman Intensity"},"y2":{"field":"h"}}},
{"data":{"name":"b"},"transform":[{"filter":"datum.w > 2000"}],"mark":{"type":"line","interpolate":"monotone","strokeWidth":1},"encoding":{"x":{"field":"w","type":"quantitative","scale":{"domain":[2671.9,3159.5],"range":[292.7,413],"nice":false,"zero":false},"axis":{"values":[2800,3000],"format":"d","title":null,"orient":"bottom"}},"y":{"field":"l","type":"quantitative","scale":{"domain":[0,372],"nice":false},"title":"Raman Intensity"}}},
{"data":{"name":"b"},"transform":[{"filter":"datum.w > 2000"}],"mark":{"type":"line","interpolate":"monotone","strokeWidth":1},"encoding":{"x":{"field":"w","type":"quantitative","scale":{"domain":[2671.9,3159.5],"range":[292.7,413],"nice":false,"zero":false},"axis":{"values":[2800,3000],"format":"d","title":null,"orient":"bottom"}},"y":{"field":"m","type":"quantitative","scale":{"domain":[0,372],"nice":false},"title":"Raman Intensity"}}},
{"data":{"name":"b"},"transform":[{"filter":"datum.w > 2000"}],"mark":{"type":"line","interpolate":"monotone","strokeWidth":1},"encoding":{"x":{"field":"w","type":"quantitative","scale":{"domain":[2671.9,3159.5],"range":[292.7,413],"nice":false,"zero":false},"axis":{"values":[2800,3000],"format":"d","title":null,"orient":"bottom"}},"y":{"field":"h","type":"quantitative","scale":{"domain":[0,372],"nice":false},"title":"Raman Intensity"}}},
{"data":{"name":"one"},"mark":{"type":"text","align":"center","baseline":"alphabetic","fontSize":20,"color":"#000"},"encoding":{"x":{"datum":2968,"type":"quantitative"},"y":{"datum":348,"type":"quantitative"},"text":{"value":"x 0.5"},"color":{"value":"#000"}}}
]}
],
"resolve":{"scale":{"x":"independent"},"axis":{"x":"independent"}}
},
{"width":413,"height":372,
"encoding":{"color":{"field":"s","type":"nominal","legend":null,"scale":{"domain":["Birch","Larch","Hazel","Alder","Moor grass","Mugwort","Rumex","Cyclamen"],"range":["#1f9bf0","#5bd31e","#f5201e","#1a1a1a","#1f9bf0","#5bd31e","#f5201e","#1a1a1a"]}}},
"layer":[
{"data":{"name":"dL"},"mark":{"type":"rule","strokeDash":[4,3],"strokeWidth":1},"encoding":{"y":{"field":"b","type":"quantitative","scale":{"domain":[0,372],"nice":false},"axis":null}}},
{"layer":[
{"data":{"name":"d"},"transform":[{"filter":"datum.w < 2000"}],"mark":{"type":"area","interpolate":"monotone","opacity":0.4},"encoding":{"x":{"field":"w","type":"quantitative","scale":{"domain":[736.4,1922.9],"range":[0,292.7],"nice":false,"zero":false},"axis":{"values":[800,1000,1200,1400,1600,1800],"format":"d","title":"Wavenumber [cm⁻¹]","titleX":206,"titleAlign":"center","orient":"bottom"}},"y":{"field":"l","type":"quantitative","scale":{"domain":[0,372],"nice":false},"axis":null},"y2":{"field":"h"}}},
{"data":{"name":"d"},"transform":[{"filter":"datum.w < 2000"}],"mark":{"type":"line","interpolate":"monotone","strokeWidth":1},"encoding":{"x":{"field":"w","type":"quantitative","scale":{"domain":[736.4,1922.9],"range":[0,292.7],"nice":false,"zero":false},"axis":{"values":[800,1000,1200,1400,1600,1800],"format":"d","title":"Wavenumber [cm⁻¹]","titleX":206,"titleAlign":"center","orient":"bottom"}},"y":{"field":"l","type":"quantitative","scale":{"domain":[0,372],"nice":false},"axis":null}}},
{"data":{"name":"d"},"transform":[{"filter":"datum.w < 2000"}],"mark":{"type":"line","interpolate":"monotone","strokeWidth":1},"encoding":{"x":{"field":"w","type":"quantitative","scale":{"domain":[736.4,1922.9],"range":[0,292.7],"nice":false,"zero":false},"axis":{"values":[800,1000,1200,1400,1600,1800],"format":"d","title":"Wavenumber [cm⁻¹]","titleX":206,"titleAlign":"center","orient":"bottom"}},"y":{"field":"m","type":"quantitative","scale":{"domain":[0,372],"nice":false},"axis":null}}},
{"data":{"name":"d"},"transform":[{"filter":"datum.w < 2000"}],"mark":{"type":"line","interpolate":"monotone","strokeWidth":1},"encoding":{"x":{"field":"w","type":"quantitative","scale":{"domain":[736.4,1922.9],"range":[0,292.7],"nice":false,"zero":false},"axis":{"values":[800,1000,1200,1400,1600,1800],"format":"d","title":"Wavenumber [cm⁻¹]","titleX":206,"titleAlign":"center","orient":"bottom"}},"y":{"field":"h","type":"quantitative","scale":{"domain":[0,372],"nice":false},"axis":null}}},
{"data":{"name":"dL"},"mark":{"type":"text","align":"left","baseline":"middle","fontSize":17},"encoding":{"x":{"datum":942,"type":"quantitative"},"y":{"field":"ly","type":"quantitative","scale":{"domain":[0,372],"nice":false},"axis":null},"text":{"field":"s"}}},
{"data":{"name":"one"},"mark":{"type":"text","align":"left","baseline":"alphabetic","fontSize":26,"fontWeight":"bold","color":"#000"},"encoding":{"x":{"datum":788,"type":"quantitative"},"y":{"datum":342,"type":"quantitative"},"text":{"value":"d"},"color":{"value":"#000"}}},
{"data":{"name":"one"},"mark":{"type":"text","align":"center","baseline":"middle","fontSize":13,"color":"#333"},"encoding":{"x":{"datum":1923,"type":"quantitative"},"y":{"datum":0,"type":"quantitative"},"text":{"value":"∿"},"color":{"value":"#333"}}}
]},
{"layer":[
{"data":{"name":"d"},"transform":[{"filter":"datum.w > 2000"}],"mark":{"type":"area","interpolate":"monotone","opacity":0.4},"encoding":{"x":{"field":"w","type":"quantitative","scale":{"domain":[2671.9,3159.5],"range":[292.7,413],"nice":false,"zero":false},"axis":{"values":[2800,3000],"format":"d","title":null,"orient":"bottom"}},"y":{"field":"l","type":"quantitative","scale":{"domain":[0,372],"nice":false},"axis":null},"y2":{"field":"h"}}},
{"data":{"name":"d"},"transform":[{"filter":"datum.w > 2000"}],"mark":{"type":"line","interpolate":"monotone","strokeWidth":1},"encoding":{"x":{"field":"w","type":"quantitative","scale":{"domain":[2671.9,3159.5],"range":[292.7,413],"nice":false,"zero":false},"axis":{"values":[2800,3000],"format":"d","title":null,"orient":"bottom"}},"y":{"field":"l","type":"quantitative","scale":{"domain":[0,372],"nice":false},"axis":null}}},
{"data":{"name":"d"},"transform":[{"filter":"datum.w > 2000"}],"mark":{"type":"line","interpolate":"monotone","strokeWidth":1},"encoding":{"x":{"field":"w","type":"quantitative","scale":{"domain":[2671.9,3159.5],"range":[292.7,413],"nice":false,"zero":false},"axis":{"values":[2800,3000],"format":"d","title":null,"orient":"bottom"}},"y":{"field":"m","type":"quantitative","scale":{"domain":[0,372],"nice":false},"axis":null}}},
{"data":{"name":"d"},"transform":[{"filter":"datum.w > 2000"}],"mark":{"type":"line","interpolate":"monotone","strokeWidth":1},"encoding":{"x":{"field":"w","type":"quantitative","scale":{"domain":[2671.9,3159.5],"range":[292.7,413],"nice":false,"zero":false},"axis":{"values":[2800,3000],"format":"d","title":null,"orient":"bottom"}},"y":{"field":"h","type":"quantitative","scale":{"domain":[0,372],"nice":false},"axis":null}}},
{"data":{"name":"one"},"mark":{"type":"text","align":"center","baseline":"alphabetic","fontSize":20,"color":"#000"},"encoding":{"x":{"datum":2968,"type":"quantitative"},"y":{"datum":348,"type":"quantitative"},"text":{"value":"x 0.5"},"color":{"value":"#000"}}}
]}
],
"resolve":{"scale":{"x":"independent"},"axis":{"x":"independent"}}
},
{"width":405,"height":372,
"encoding":{"color":{"field":"s","type":"nominal","legend":null,"scale":{"domain":["Birch","Larch","Hazel","Alder","Moor grass","Mugwort","Rumex","Cyclamen"],"range":["#1f9bf0","#5bd31e","#f5201e","#1a1a1a","#1f9bf0","#5bd31e","#f5201e","#1a1a1a"]}}},
"layer":[
{"data":{"name":"fL"},"mark":{"type":"rule","strokeDash":[4,3],"strokeWidth":1},"encoding":{"y":{"field":"b","type":"quantitative","scale":{"domain":[0,372],"nice":false},"axis":null}}},
{"layer":[
{"data":{"name":"f"},"transform":[{"filter":"datum.w < 2000"}],"mark":{"type":"area","opacity":0.4},"encoding":{"x":{"field":"w","type":"quantitative","scale":{"domain":[736.4,1922.9],"range":[0,292.7],"nice":false,"zero":false},"axis":{"values":[800,1000,1200,1400,1600,1800],"format":"d","title":"Wavenumber [cm⁻¹]","titleX":203,"titleAlign":"center","orient":"bottom"}},"y":{"field":"l","type":"quantitative","scale":{"domain":[0,372],"nice":false},"axis":null},"y2":{"field":"h"}}},
{"data":{"name":"f"},"transform":[{"filter":"datum.w < 2000"}],"mark":{"type":"line","strokeWidth":1},"encoding":{"x":{"field":"w","type":"quantitative","scale":{"domain":[736.4,1922.9],"range":[0,292.7],"nice":false,"zero":false},"axis":{"values":[800,1000,1200,1400,1600,1800],"format":"d","title":"Wavenumber [cm⁻¹]","titleX":203,"titleAlign":"center","orient":"bottom"}},"y":{"field":"l","type":"quantitative","scale":{"domain":[0,372],"nice":false},"axis":null}}},
{"data":{"name":"f"},"transform":[{"filter":"datum.w < 2000"}],"mark":{"type":"line","strokeWidth":1},"encoding":{"x":{"field":"w","type":"quantitative","scale":{"domain":[736.4,1922.9],"range":[0,292.7],"nice":false,"zero":false},"axis":{"values":[800,1000,1200,1400,1600,1800],"format":"d","title":"Wavenumber [cm⁻¹]","titleX":203,"titleAlign":"center","orient":"bottom"}},"y":{"field":"m","type":"quantitative","scale":{"domain":[0,372],"nice":false},"axis":null}}},
{"data":{"name":"f"},"transform":[{"filter":"datum.w < 2000"}],"mark":{"type":"line","strokeWidth":1},"encoding":{"x":{"field":"w","type":"quantitative","scale":{"domain":[736.4,1922.9],"range":[0,292.7],"nice":false,"zero":false},"axis":{"values":[800,1000,1200,1400,1600,1800],"format":"d","title":"Wavenumber [cm⁻¹]","titleX":203,"titleAlign":"center","orient":"bottom"}},"y":{"field":"h","type":"quantitative","scale":{"domain":[0,372],"nice":false},"axis":null}}},
{"data":{"name":"fL"},"mark":{"type":"text","align":"left","baseline":"middle","fontSize":17},"encoding":{"x":{"datum":958,"type":"quantitative"},"y":{"field":"ly","type":"quantitative","scale":{"domain":[0,372],"nice":false},"axis":null},"text":{"field":"s"}}},
{"data":{"name":"one"},"mark":{"type":"text","align":"left","baseline":"alphabetic","fontSize":26,"fontWeight":"bold","color":"#000"},"encoding":{"x":{"datum":801,"type":"quantitative"},"y":{"datum":342,"type":"quantitative"},"text":{"value":"f"},"color":{"value":"#000"}}},
{"data":{"name":"one"},"mark":{"type":"text","align":"center","baseline":"middle","fontSize":13,"color":"#333"},"encoding":{"x":{"datum":1923,"type":"quantitative"},"y":{"datum":0,"type":"quantitative"},"text":{"value":"∿"},"color":{"value":"#333"}}}
]},
{"layer":[
{"data":{"name":"f"},"transform":[{"filter":"datum.w > 2000"}],"mark":{"type":"area","opacity":0.4},"encoding":{"x":{"field":"w","type":"quantitative","scale":{"domain":[2671.9,3127.1],"range":[292.7,405],"nice":false,"zero":false},"axis":{"values":[2800,3000],"format":"d","title":null,"orient":"bottom"}},"y":{"field":"l","type":"quantitative","scale":{"domain":[0,372],"nice":false},"axis":null},"y2":{"field":"h"}}},
{"data":{"name":"f"},"transform":[{"filter":"datum.w > 2000"}],"mark":{"type":"line","strokeWidth":1},"encoding":{"x":{"field":"w","type":"quantitative","scale":{"domain":[2671.9,3127.1],"range":[292.7,405],"nice":false,"zero":false},"axis":{"values":[2800,3000],"format":"d","title":null,"orient":"bottom"}},"y":{"field":"l","type":"quantitative","scale":{"domain":[0,372],"nice":false},"axis":null}}},
{"data":{"name":"f"},"transform":[{"filter":"datum.w > 2000"}],"mark":{"type":"line","strokeWidth":1},"encoding":{"x":{"field":"w","type":"quantitative","scale":{"domain":[2671.9,3127.1],"range":[292.7,405],"nice":false,"zero":false},"axis":{"values":[2800,3000],"format":"d","title":null,"orient":"bottom"}},"y":{"field":"m","type":"quantitative","scale":{"domain":[0,372],"nice":false},"axis":null}}},
{"data":{"name":"f"},"transform":[{"filter":"datum.w > 2000"}],"mark":{"type":"line","strokeWidth":1},"encoding":{"x":{"field":"w","type":"quantitative","scale":{"domain":[2671.9,3127.1],"range":[292.7,405],"nice":false,"zero":false},"axis":{"values":[2800,3000],"format":"d","title":null,"orient":"bottom"}},"y":{"field":"h","type":"quantitative","scale":{"domain":[0,372],"nice":false},"axis":null}}},
{"data":{"name":"one"},"mark":{"type":"text","align":"center","baseline":"alphabetic","fontSize":20,"color":"#000"},"encoding":{"x":{"datum":2968,"type":"quantitative"},"y":{"datum":348,"type":"quantitative"},"text":{"value":"x 0.5"},"color":{"value":"#000"}}}
]}
],
"resolve":{"scale":{"x":"independent"},"axis":{"x":"independent"}}
}
]
}
